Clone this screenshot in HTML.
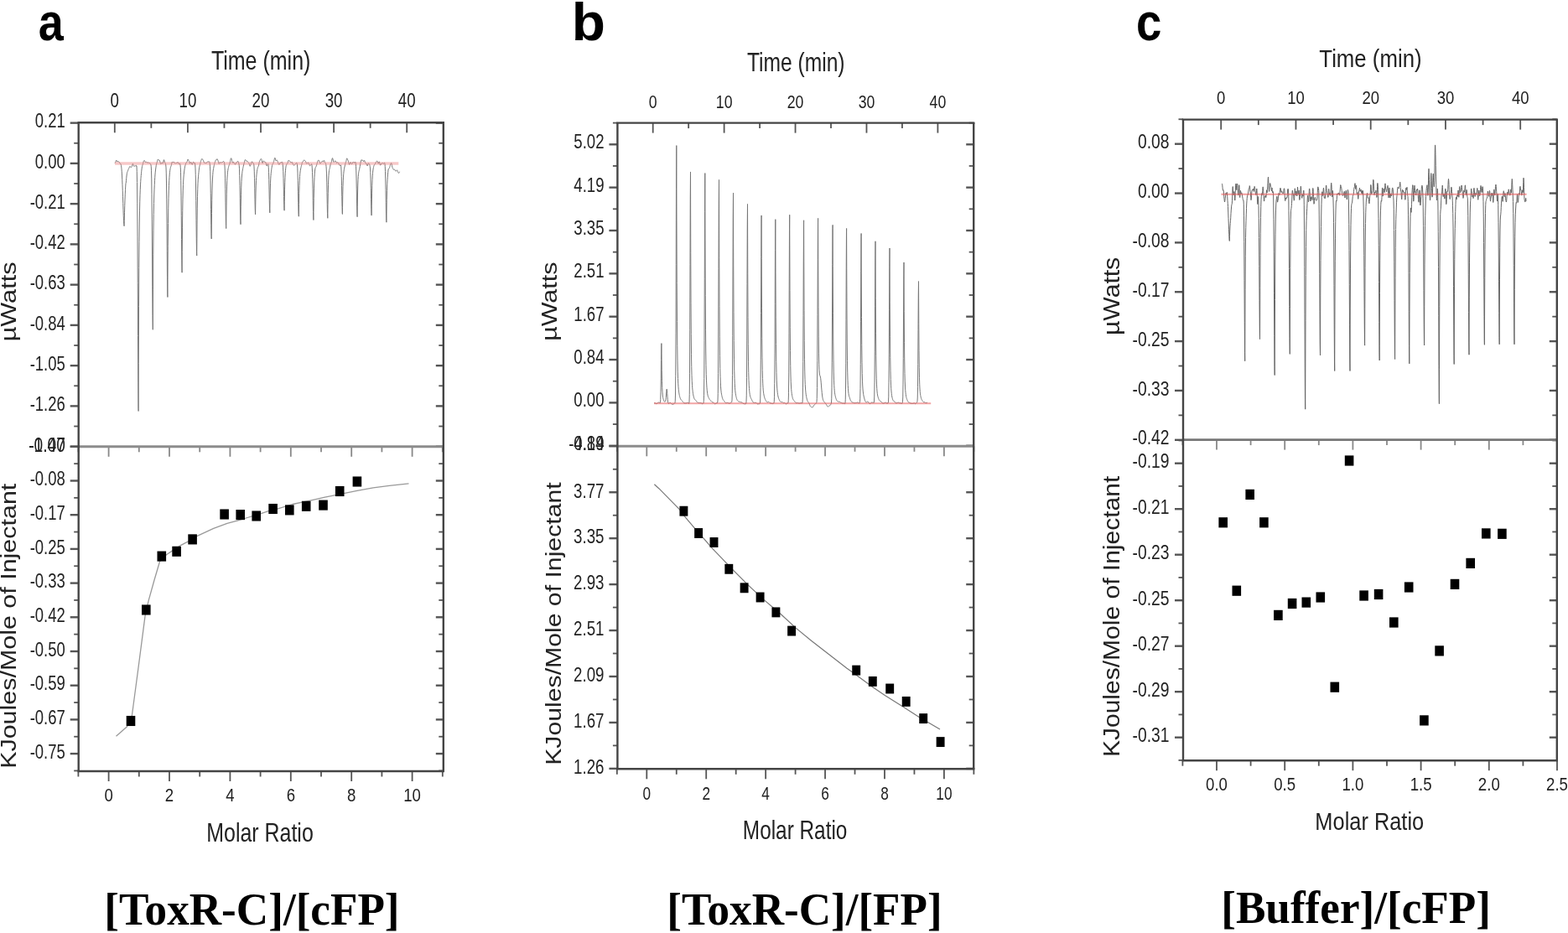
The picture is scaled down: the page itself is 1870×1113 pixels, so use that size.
<!DOCTYPE html>
<html><head><meta charset="utf-8"><title>ITC</title>
<style>html,body{margin:0;padding:0;background:#fff;overflow:hidden}svg{display:block;filter:blur(0.4px)}</style></head>
<body><svg width="1870" height="1113" viewBox="0 0 1870 1113">
<rect width="1870" height="1113" fill="#fff"/>
<line x1="136.80" y1="146.30" x2="136.80" y2="158.30" stroke="#555" stroke-width="1.8"/>
<line x1="223.90" y1="146.30" x2="223.90" y2="158.30" stroke="#555" stroke-width="1.8"/>
<line x1="311.00" y1="146.30" x2="311.00" y2="158.30" stroke="#555" stroke-width="1.8"/>
<line x1="398.10" y1="146.30" x2="398.10" y2="158.30" stroke="#555" stroke-width="1.8"/>
<line x1="485.20" y1="146.30" x2="485.20" y2="158.30" stroke="#555" stroke-width="1.8"/>
<line x1="180.35" y1="146.30" x2="180.35" y2="152.80" stroke="#555" stroke-width="1.8"/>
<line x1="267.45" y1="146.30" x2="267.45" y2="152.80" stroke="#555" stroke-width="1.8"/>
<line x1="354.55" y1="146.30" x2="354.55" y2="152.80" stroke="#555" stroke-width="1.8"/>
<line x1="441.65" y1="146.30" x2="441.65" y2="152.80" stroke="#555" stroke-width="1.8"/>
<text transform="translate(136.80,127.97) scale(0.8100,1)" text-anchor="middle" font-family='"Liberation Sans", Arial, sans-serif' font-size="23.10" fill="#222">0</text>
<text transform="translate(223.90,127.97) scale(0.8100,1)" text-anchor="middle" font-family='"Liberation Sans", Arial, sans-serif' font-size="23.10" fill="#222">10</text>
<text transform="translate(311.00,127.97) scale(0.8100,1)" text-anchor="middle" font-family='"Liberation Sans", Arial, sans-serif' font-size="23.10" fill="#222">20</text>
<text transform="translate(398.10,127.97) scale(0.8100,1)" text-anchor="middle" font-family='"Liberation Sans", Arial, sans-serif' font-size="23.10" fill="#222">30</text>
<text transform="translate(485.20,127.97) scale(0.8100,1)" text-anchor="middle" font-family='"Liberation Sans", Arial, sans-serif' font-size="23.10" fill="#222">40</text>
<line x1="83.70" y1="146.65" x2="93.70" y2="146.65" stroke="#555" stroke-width="2.4"/>
<line x1="519.80" y1="146.65" x2="528.80" y2="146.65" stroke="#555" stroke-width="2.4"/>
<line x1="83.70" y1="194.90" x2="93.70" y2="194.90" stroke="#555" stroke-width="2.4"/>
<line x1="519.80" y1="194.90" x2="528.80" y2="194.90" stroke="#555" stroke-width="2.4"/>
<line x1="83.70" y1="243.15" x2="93.70" y2="243.15" stroke="#555" stroke-width="2.4"/>
<line x1="519.80" y1="243.15" x2="528.80" y2="243.15" stroke="#555" stroke-width="2.4"/>
<line x1="83.70" y1="291.40" x2="93.70" y2="291.40" stroke="#555" stroke-width="2.4"/>
<line x1="519.80" y1="291.40" x2="528.80" y2="291.40" stroke="#555" stroke-width="2.4"/>
<line x1="83.70" y1="339.65" x2="93.70" y2="339.65" stroke="#555" stroke-width="2.4"/>
<line x1="519.80" y1="339.65" x2="528.80" y2="339.65" stroke="#555" stroke-width="2.4"/>
<line x1="83.70" y1="387.90" x2="93.70" y2="387.90" stroke="#555" stroke-width="2.4"/>
<line x1="519.80" y1="387.90" x2="528.80" y2="387.90" stroke="#555" stroke-width="2.4"/>
<line x1="83.70" y1="436.15" x2="93.70" y2="436.15" stroke="#555" stroke-width="2.4"/>
<line x1="519.80" y1="436.15" x2="528.80" y2="436.15" stroke="#555" stroke-width="2.4"/>
<line x1="83.70" y1="484.40" x2="93.70" y2="484.40" stroke="#555" stroke-width="2.4"/>
<line x1="519.80" y1="484.40" x2="528.80" y2="484.40" stroke="#555" stroke-width="2.4"/>
<line x1="83.70" y1="532.65" x2="93.70" y2="532.65" stroke="#555" stroke-width="2.4"/>
<line x1="519.80" y1="532.65" x2="528.80" y2="532.65" stroke="#555" stroke-width="2.4"/>
<line x1="88.20" y1="170.78" x2="93.70" y2="170.78" stroke="#555" stroke-width="1.8"/>
<line x1="523.30" y1="170.78" x2="528.80" y2="170.78" stroke="#555" stroke-width="1.8"/>
<line x1="88.20" y1="219.03" x2="93.70" y2="219.03" stroke="#555" stroke-width="1.8"/>
<line x1="523.30" y1="219.03" x2="528.80" y2="219.03" stroke="#555" stroke-width="1.8"/>
<line x1="88.20" y1="267.27" x2="93.70" y2="267.27" stroke="#555" stroke-width="1.8"/>
<line x1="523.30" y1="267.27" x2="528.80" y2="267.27" stroke="#555" stroke-width="1.8"/>
<line x1="88.20" y1="315.52" x2="93.70" y2="315.52" stroke="#555" stroke-width="1.8"/>
<line x1="523.30" y1="315.52" x2="528.80" y2="315.52" stroke="#555" stroke-width="1.8"/>
<line x1="88.20" y1="363.77" x2="93.70" y2="363.77" stroke="#555" stroke-width="1.8"/>
<line x1="523.30" y1="363.77" x2="528.80" y2="363.77" stroke="#555" stroke-width="1.8"/>
<line x1="88.20" y1="412.02" x2="93.70" y2="412.02" stroke="#555" stroke-width="1.8"/>
<line x1="523.30" y1="412.02" x2="528.80" y2="412.02" stroke="#555" stroke-width="1.8"/>
<line x1="88.20" y1="460.27" x2="93.70" y2="460.27" stroke="#555" stroke-width="1.8"/>
<line x1="523.30" y1="460.27" x2="528.80" y2="460.27" stroke="#555" stroke-width="1.8"/>
<line x1="88.20" y1="508.52" x2="93.70" y2="508.52" stroke="#555" stroke-width="1.8"/>
<line x1="523.30" y1="508.52" x2="528.80" y2="508.52" stroke="#555" stroke-width="1.8"/>
<text transform="translate(77.80,152.32) scale(0.8000,1)" text-anchor="end" font-family='"Liberation Sans", Arial, sans-serif' font-size="23.10" fill="#222">0.21</text>
<text transform="translate(77.80,200.57) scale(0.8000,1)" text-anchor="end" font-family='"Liberation Sans", Arial, sans-serif' font-size="23.10" fill="#222">0.00</text>
<text transform="translate(77.80,248.82) scale(0.8000,1)" text-anchor="end" font-family='"Liberation Sans", Arial, sans-serif' font-size="23.10" fill="#222">-0.21</text>
<text transform="translate(77.80,297.07) scale(0.8000,1)" text-anchor="end" font-family='"Liberation Sans", Arial, sans-serif' font-size="23.10" fill="#222">-0.42</text>
<text transform="translate(77.80,345.32) scale(0.8000,1)" text-anchor="end" font-family='"Liberation Sans", Arial, sans-serif' font-size="23.10" fill="#222">-0.63</text>
<text transform="translate(77.80,393.57) scale(0.8000,1)" text-anchor="end" font-family='"Liberation Sans", Arial, sans-serif' font-size="23.10" fill="#222">-0.84</text>
<text transform="translate(77.80,441.82) scale(0.8000,1)" text-anchor="end" font-family='"Liberation Sans", Arial, sans-serif' font-size="23.10" fill="#222">-1.05</text>
<text transform="translate(77.80,490.07) scale(0.8000,1)" text-anchor="end" font-family='"Liberation Sans", Arial, sans-serif' font-size="23.10" fill="#222">-1.26</text>
<line x1="129.60" y1="532.80" x2="129.60" y2="544.80" stroke="#888" stroke-width="1.8"/>
<line x1="202.00" y1="532.80" x2="202.00" y2="544.80" stroke="#888" stroke-width="1.8"/>
<line x1="274.40" y1="532.80" x2="274.40" y2="544.80" stroke="#888" stroke-width="1.8"/>
<line x1="346.80" y1="532.80" x2="346.80" y2="544.80" stroke="#888" stroke-width="1.8"/>
<line x1="419.20" y1="532.80" x2="419.20" y2="544.80" stroke="#888" stroke-width="1.8"/>
<line x1="491.60" y1="532.80" x2="491.60" y2="544.80" stroke="#888" stroke-width="1.8"/>
<line x1="93.40" y1="532.80" x2="93.40" y2="539.30" stroke="#888" stroke-width="1.8"/>
<line x1="165.80" y1="532.80" x2="165.80" y2="539.30" stroke="#888" stroke-width="1.8"/>
<line x1="238.20" y1="532.80" x2="238.20" y2="539.30" stroke="#888" stroke-width="1.8"/>
<line x1="310.60" y1="532.80" x2="310.60" y2="539.30" stroke="#888" stroke-width="1.8"/>
<line x1="383.00" y1="532.80" x2="383.00" y2="539.30" stroke="#888" stroke-width="1.8"/>
<line x1="455.40" y1="532.80" x2="455.40" y2="539.30" stroke="#888" stroke-width="1.8"/>
<line x1="527.80" y1="532.80" x2="527.80" y2="539.30" stroke="#888" stroke-width="1.8"/>
<line x1="129.60" y1="920.00" x2="129.60" y2="932.00" stroke="#555" stroke-width="1.8"/>
<line x1="202.00" y1="920.00" x2="202.00" y2="932.00" stroke="#555" stroke-width="1.8"/>
<line x1="274.40" y1="920.00" x2="274.40" y2="932.00" stroke="#555" stroke-width="1.8"/>
<line x1="346.80" y1="920.00" x2="346.80" y2="932.00" stroke="#555" stroke-width="1.8"/>
<line x1="419.20" y1="920.00" x2="419.20" y2="932.00" stroke="#555" stroke-width="1.8"/>
<line x1="491.60" y1="920.00" x2="491.60" y2="932.00" stroke="#555" stroke-width="1.8"/>
<line x1="93.40" y1="920.00" x2="93.40" y2="926.50" stroke="#555" stroke-width="1.8"/>
<line x1="165.80" y1="920.00" x2="165.80" y2="926.50" stroke="#555" stroke-width="1.8"/>
<line x1="238.20" y1="920.00" x2="238.20" y2="926.50" stroke="#555" stroke-width="1.8"/>
<line x1="310.60" y1="920.00" x2="310.60" y2="926.50" stroke="#555" stroke-width="1.8"/>
<line x1="383.00" y1="920.00" x2="383.00" y2="926.50" stroke="#555" stroke-width="1.8"/>
<line x1="455.40" y1="920.00" x2="455.40" y2="926.50" stroke="#555" stroke-width="1.8"/>
<line x1="527.80" y1="920.00" x2="527.80" y2="926.50" stroke="#555" stroke-width="1.8"/>
<text transform="translate(129.60,956.27) scale(0.8100,1)" text-anchor="middle" font-family='"Liberation Sans", Arial, sans-serif' font-size="22.96" fill="#222">0</text>
<text transform="translate(202.00,956.27) scale(0.8100,1)" text-anchor="middle" font-family='"Liberation Sans", Arial, sans-serif' font-size="22.96" fill="#222">2</text>
<text transform="translate(274.40,956.27) scale(0.8100,1)" text-anchor="middle" font-family='"Liberation Sans", Arial, sans-serif' font-size="22.96" fill="#222">4</text>
<text transform="translate(346.80,956.27) scale(0.8100,1)" text-anchor="middle" font-family='"Liberation Sans", Arial, sans-serif' font-size="22.96" fill="#222">6</text>
<text transform="translate(419.20,956.27) scale(0.8100,1)" text-anchor="middle" font-family='"Liberation Sans", Arial, sans-serif' font-size="22.96" fill="#222">8</text>
<text transform="translate(491.60,956.27) scale(0.8100,1)" text-anchor="middle" font-family='"Liberation Sans", Arial, sans-serif' font-size="22.96" fill="#222">10</text>
<line x1="83.70" y1="573.50" x2="93.70" y2="573.50" stroke="#555" stroke-width="2.4"/>
<line x1="519.80" y1="573.50" x2="528.80" y2="573.50" stroke="#555" stroke-width="2.4"/>
<line x1="83.70" y1="614.20" x2="93.70" y2="614.20" stroke="#555" stroke-width="2.4"/>
<line x1="519.80" y1="614.20" x2="528.80" y2="614.20" stroke="#555" stroke-width="2.4"/>
<line x1="83.70" y1="654.90" x2="93.70" y2="654.90" stroke="#555" stroke-width="2.4"/>
<line x1="519.80" y1="654.90" x2="528.80" y2="654.90" stroke="#555" stroke-width="2.4"/>
<line x1="83.70" y1="695.60" x2="93.70" y2="695.60" stroke="#555" stroke-width="2.4"/>
<line x1="519.80" y1="695.60" x2="528.80" y2="695.60" stroke="#555" stroke-width="2.4"/>
<line x1="83.70" y1="736.30" x2="93.70" y2="736.30" stroke="#555" stroke-width="2.4"/>
<line x1="519.80" y1="736.30" x2="528.80" y2="736.30" stroke="#555" stroke-width="2.4"/>
<line x1="83.70" y1="777.00" x2="93.70" y2="777.00" stroke="#555" stroke-width="2.4"/>
<line x1="519.80" y1="777.00" x2="528.80" y2="777.00" stroke="#555" stroke-width="2.4"/>
<line x1="83.70" y1="817.70" x2="93.70" y2="817.70" stroke="#555" stroke-width="2.4"/>
<line x1="519.80" y1="817.70" x2="528.80" y2="817.70" stroke="#555" stroke-width="2.4"/>
<line x1="83.70" y1="858.40" x2="93.70" y2="858.40" stroke="#555" stroke-width="2.4"/>
<line x1="519.80" y1="858.40" x2="528.80" y2="858.40" stroke="#555" stroke-width="2.4"/>
<line x1="83.70" y1="899.10" x2="93.70" y2="899.10" stroke="#555" stroke-width="2.4"/>
<line x1="519.80" y1="899.10" x2="528.80" y2="899.10" stroke="#555" stroke-width="2.4"/>
<line x1="88.20" y1="553.15" x2="93.70" y2="553.15" stroke="#555" stroke-width="1.8"/>
<line x1="523.30" y1="553.15" x2="528.80" y2="553.15" stroke="#555" stroke-width="1.8"/>
<line x1="88.20" y1="593.85" x2="93.70" y2="593.85" stroke="#555" stroke-width="1.8"/>
<line x1="523.30" y1="593.85" x2="528.80" y2="593.85" stroke="#555" stroke-width="1.8"/>
<line x1="88.20" y1="634.55" x2="93.70" y2="634.55" stroke="#555" stroke-width="1.8"/>
<line x1="523.30" y1="634.55" x2="528.80" y2="634.55" stroke="#555" stroke-width="1.8"/>
<line x1="88.20" y1="675.25" x2="93.70" y2="675.25" stroke="#555" stroke-width="1.8"/>
<line x1="523.30" y1="675.25" x2="528.80" y2="675.25" stroke="#555" stroke-width="1.8"/>
<line x1="88.20" y1="715.95" x2="93.70" y2="715.95" stroke="#555" stroke-width="1.8"/>
<line x1="523.30" y1="715.95" x2="528.80" y2="715.95" stroke="#555" stroke-width="1.8"/>
<line x1="88.20" y1="756.65" x2="93.70" y2="756.65" stroke="#555" stroke-width="1.8"/>
<line x1="523.30" y1="756.65" x2="528.80" y2="756.65" stroke="#555" stroke-width="1.8"/>
<line x1="88.20" y1="797.35" x2="93.70" y2="797.35" stroke="#555" stroke-width="1.8"/>
<line x1="523.30" y1="797.35" x2="528.80" y2="797.35" stroke="#555" stroke-width="1.8"/>
<line x1="88.20" y1="838.05" x2="93.70" y2="838.05" stroke="#555" stroke-width="1.8"/>
<line x1="523.30" y1="838.05" x2="528.80" y2="838.05" stroke="#555" stroke-width="1.8"/>
<line x1="88.20" y1="878.75" x2="93.70" y2="878.75" stroke="#555" stroke-width="1.8"/>
<line x1="523.30" y1="878.75" x2="528.80" y2="878.75" stroke="#555" stroke-width="1.8"/>
<line x1="88.20" y1="919.45" x2="93.70" y2="919.45" stroke="#555" stroke-width="1.8"/>
<line x1="523.30" y1="919.45" x2="528.80" y2="919.45" stroke="#555" stroke-width="1.8"/>
<text transform="translate(77.80,579.17) scale(0.8000,1)" text-anchor="end" font-family='"Liberation Sans", Arial, sans-serif' font-size="23.10" fill="#222">-0.08</text>
<text transform="translate(77.80,619.87) scale(0.8000,1)" text-anchor="end" font-family='"Liberation Sans", Arial, sans-serif' font-size="23.10" fill="#222">-0.17</text>
<text transform="translate(77.80,660.57) scale(0.8000,1)" text-anchor="end" font-family='"Liberation Sans", Arial, sans-serif' font-size="23.10" fill="#222">-0.25</text>
<text transform="translate(77.80,701.27) scale(0.8000,1)" text-anchor="end" font-family='"Liberation Sans", Arial, sans-serif' font-size="23.10" fill="#222">-0.33</text>
<text transform="translate(77.80,741.97) scale(0.8000,1)" text-anchor="end" font-family='"Liberation Sans", Arial, sans-serif' font-size="23.10" fill="#222">-0.42</text>
<text transform="translate(77.80,782.67) scale(0.8000,1)" text-anchor="end" font-family='"Liberation Sans", Arial, sans-serif' font-size="23.10" fill="#222">-0.50</text>
<text transform="translate(77.80,823.37) scale(0.8000,1)" text-anchor="end" font-family='"Liberation Sans", Arial, sans-serif' font-size="23.10" fill="#222">-0.59</text>
<text transform="translate(77.80,864.07) scale(0.8000,1)" text-anchor="end" font-family='"Liberation Sans", Arial, sans-serif' font-size="23.10" fill="#222">-0.67</text>
<text transform="translate(77.80,904.77) scale(0.8000,1)" text-anchor="end" font-family='"Liberation Sans", Arial, sans-serif' font-size="23.10" fill="#222">-0.75</text>
<line x1="83.70" y1="532.80" x2="93.70" y2="532.80" stroke="#555" stroke-width="2.4"/>
<text transform="translate(77.80,538.96) scale(0.8000,1)" text-anchor="end" font-family='"Liberation Sans", Arial, sans-serif' font-size="23.94" fill="#222">-1.47</text>
<text transform="translate(77.80,538.96) scale(0.8000,1)" text-anchor="end" font-family='"Liberation Sans", Arial, sans-serif' font-size="23.94" fill="#222">-0.00</text>
<text transform="translate(251.90,82.90) scale(0.8177,1)" font-family='"Liberation Sans", Arial, sans-serif' font-weight="normal" font-size="30.58" fill="#222">Time (min)</text>
<text transform="translate(246.25,1003.80) scale(0.8007,1)" font-family='"Liberation Sans", Arial, sans-serif' font-weight="normal" font-size="31.16" fill="#222">Molar Ratio</text>
<text transform="translate(19.40,407.35) scale(0.8411,1) rotate(-90)" font-family='"Liberation Sans", Arial, sans-serif' font-weight="normal" font-size="30.67" fill="#222">µWatts</text>
<text transform="translate(19.40,916.84) scale(0.8611,1) rotate(-90)" font-family='"Liberation Sans", Arial, sans-serif' font-weight="normal" font-size="30.46" fill="#222">KJoules/Mole of Injectant</text>
<line x1="93.70" y1="532.80" x2="528.80" y2="532.80" stroke="#8c8c8c" stroke-width="3.0"/>
<line x1="93.70" y1="146.30" x2="93.70" y2="920.00" stroke="#444444" stroke-width="2.4"/>
<line x1="528.80" y1="146.30" x2="528.80" y2="920.00" stroke="#444444" stroke-width="2.4"/>
<line x1="92.50" y1="146.30" x2="530.00" y2="146.30" stroke="#444444" stroke-width="2.4"/>
<line x1="92.50" y1="920.00" x2="530.00" y2="920.00" stroke="#444444" stroke-width="2.4"/>
<path d="M137.00,194.66 L137.25,194.36 L137.50,193.95 L137.75,193.38 L138.00,192.64 L138.25,191.87 L138.50,191.28 L138.75,191.09 L139.00,191.33 L139.25,191.89 L139.50,192.51 L139.75,192.94 L140.00,193.00 L140.25,192.82 L140.50,192.62 L140.75,192.58 L141.00,192.67 L141.25,192.74 L141.50,192.76 L141.75,192.85 L142.00,193.14 L142.25,193.61 L142.50,194.13 L142.75,194.57 L143.00,194.87 L143.25,195.05 L143.50,195.16 L143.75,195.30 L144.00,195.62 L144.25,196.27 L144.50,197.41 L144.75,199.17 L145.00,201.61 L145.25,204.86 L145.50,209.05 L145.75,214.26 L146.00,220.40 L146.25,227.32 L146.50,234.79 L146.75,242.58 L147.00,250.32 L147.25,257.43 L147.50,263.33 L147.75,267.47 L148.00,269.52 L148.10,269.70 L148.25,263.31 L148.50,253.76 L148.75,245.40 L149.00,238.11 L149.25,231.80 L149.50,226.47 L149.75,222.07 L150.00,218.42 L150.25,218.25 L150.50,215.29 L150.75,212.50 L151.00,209.97 L151.25,207.88 L151.50,206.37 L151.75,205.41 L152.00,204.84 L152.25,204.34 L152.50,203.72 L152.75,202.98 L153.00,202.27 L153.25,201.70 L153.50,201.20 L153.75,200.69 L154.00,200.12 L154.25,199.53 L154.50,198.99 L154.75,198.58 L155.00,198.43 L155.25,198.59 L155.50,198.99 L155.75,199.39 L156.00,199.63 L156.25,199.65 L156.50,199.54 L156.75,199.33 L157.00,199.00 L157.25,198.49 L157.50,197.73 L157.75,196.82 L158.00,195.97 L158.25,195.41 L158.50,195.37 L158.75,195.89 L159.00,196.77 L159.25,197.63 L159.50,198.15 L159.75,198.27 L160.00,198.20 L160.25,198.14 L160.50,198.16 L160.75,198.23 L161.00,198.23 L161.25,198.11 L161.50,197.86 L161.75,197.53 L162.00,197.24 L162.25,197.15 L162.50,197.44 L162.75,198.50 L163.00,198.20 L163.25,204.44 L163.50,217.57 L163.75,242.14 L164.00,282.13 L164.25,337.39 L164.50,400.37 L164.75,456.11 L165.00,487.52 L165.10,490.49 L165.25,433.65 L165.50,365.28 L165.75,319.58 L166.00,288.54 L166.25,267.04 L166.50,251.83 L166.75,240.85 L167.00,232.67 L167.25,226.25 L167.50,220.91 L167.75,216.37 L168.00,212.56 L168.25,209.39 L168.50,206.69 L168.75,204.24 L169.00,202.01 L169.25,200.09 L169.50,198.61 L169.75,197.60 L170.00,196.88 L170.25,196.17 L170.50,195.30 L170.75,194.28 L171.00,193.27 L171.25,192.47 L171.50,191.95 L171.75,191.63 L172.00,191.47 L172.25,191.48 L172.50,191.74 L172.75,192.20 L173.00,192.74 L173.25,193.21 L173.50,193.56 L173.75,193.77 L174.00,193.76 L174.25,193.56 L174.50,193.31 L174.75,193.24 L175.00,193.45 L175.25,193.84 L175.50,194.20 L175.75,194.37 L176.00,194.36 L176.25,194.18 L176.50,193.94 L176.75,193.76 L177.00,193.76 L177.25,194.00 L177.50,194.36 L177.75,194.64 L178.00,194.72 L178.25,194.68 L178.50,194.62 L178.75,194.66 L179.00,194.82 L179.25,195.09 L179.50,195.49 L179.75,196.05 L180.00,196.92 L180.25,198.75 L180.50,203.21 L180.75,213.10 L181.00,231.72 L181.25,261.16 L181.50,300.00 L181.75,341.89 L182.00,376.37 L182.25,392.80 L182.30,393.29 L182.50,345.12 L182.75,303.20 L183.00,274.90 L183.25,255.60 L183.50,242.32 L183.75,233.01 L184.00,226.12 L184.25,220.56 L184.50,215.72 L184.75,211.46 L185.00,207.94 L185.25,205.18 L185.50,202.97 L185.75,201.02 L186.00,199.15 L186.25,197.45 L186.50,196.11 L186.75,195.16 L187.00,194.38 L187.25,193.53 L187.50,192.53 L187.75,191.49 L188.00,190.64 L188.25,190.13 L188.50,190.03 L188.75,190.28 L189.00,190.70 L189.25,191.04 L189.50,191.16 L189.75,191.10 L190.00,191.07 L190.25,191.29 L190.50,191.82 L190.75,192.63 L191.00,193.58 L191.25,194.49 L191.50,195.16 L191.75,195.46 L192.00,195.38 L192.25,195.04 L192.50,194.60 L192.75,194.24 L193.00,194.12 L193.25,194.28 L193.50,194.59 L193.75,194.91 L194.00,195.02 L194.25,194.80 L194.50,194.15 L194.75,193.13 L195.00,191.94 L195.25,190.98 L195.50,190.62 L195.75,191.02 L196.00,191.95 L196.25,192.95 L196.50,193.68 L196.75,194.15 L197.00,194.53 L197.25,195.00 L197.50,195.68 L197.75,196.97 L198.00,199.86 L198.25,206.11 L198.50,218.06 L198.75,237.89 L199.00,266.08 L199.25,299.50 L199.50,330.86 L199.75,350.93 L199.90,354.49 L200.00,333.25 L200.25,293.22 L200.50,266.62 L200.75,248.81 L201.00,236.64 L201.25,227.93 L201.50,221.25 L201.75,215.85 L202.00,211.44 L202.25,207.96 L202.50,205.31 L202.75,203.28 L203.00,201.67 L203.25,200.40 L203.50,199.44 L203.75,198.73 L204.00,198.09 L204.25,197.33 L204.50,196.34 L204.75,195.17 L205.00,194.04 L205.25,193.25 L205.50,193.01 L205.75,193.22 L206.00,193.54 L206.25,193.65 L206.50,193.47 L206.75,193.16 L207.00,192.93 L207.25,192.98 L207.50,193.32 L207.75,193.84 L208.00,194.27 L208.25,194.46 L208.50,194.51 L208.75,194.60 L209.00,194.83 L209.25,195.08 L209.50,195.11 L209.75,194.87 L210.00,194.57 L210.25,194.41 L210.50,194.43 L210.75,194.51 L211.00,194.47 L211.25,194.27 L211.50,193.94 L211.75,193.63 L212.00,193.50 L212.25,193.64 L212.50,194.05 L212.75,194.64 L213.00,195.20 L213.25,195.55 L213.50,195.59 L213.75,195.38 L214.00,195.07 L214.25,194.91 L214.50,195.08 L214.75,195.74 L215.00,197.09 L215.25,199.78 L215.50,205.27 L215.75,215.72 L216.00,233.14 L216.25,257.54 L216.50,285.45 L216.75,310.09 L217.00,323.90 L217.10,325.19 L217.25,300.60 L217.50,271.16 L217.75,251.42 L218.00,237.74 L218.25,227.87 L218.50,220.50 L218.75,215.01 L219.00,211.06 L219.25,208.25 L219.50,206.04 L219.75,203.98 L220.00,201.97 L220.25,200.20 L220.50,198.83 L220.75,197.82 L221.00,197.00 L221.25,196.21 L221.50,195.43 L221.75,194.71 L222.00,194.16 L222.25,193.85 L222.50,193.75 L222.75,193.65 L223.00,193.28 L223.25,192.53 L223.50,191.52 L223.75,190.56 L224.00,190.01 L224.25,190.05 L224.50,190.58 L224.75,191.28 L225.00,191.84 L225.25,192.15 L225.50,192.46 L225.75,193.04 L226.00,193.93 L226.25,194.78 L226.50,195.17 L226.75,194.97 L227.00,194.39 L227.25,193.81 L227.50,193.48 L227.75,193.45 L228.00,193.71 L228.25,194.23 L228.50,194.98 L228.75,195.72 L229.00,196.20 L229.25,196.24 L229.50,195.87 L229.75,195.26 L230.00,194.55 L230.25,193.87 L230.50,193.39 L230.75,193.23 L231.00,193.46 L231.25,193.93 L231.50,194.34 L231.75,194.49 L232.00,194.41 L232.25,194.41 L232.50,195.02 L232.75,196.86 L233.00,200.87 L233.25,208.41 L233.50,221.00 L233.75,239.43 L234.00,262.21 L234.25,284.79 L234.50,300.75 L234.70,305.09 L234.75,297.50 L235.00,267.83 L235.25,248.14 L235.50,234.74 L235.75,225.37 L236.00,218.77 L236.25,214.16 L236.50,210.85 L236.75,208.16 L237.00,205.65 L237.25,203.25 L237.50,201.10 L237.75,199.40 L238.00,198.21 L238.25,197.34 L238.50,196.57 L238.75,195.68 L239.00,194.63 L239.25,193.52 L239.50,192.50 L239.75,191.64 L240.00,190.93 L240.25,190.33 L240.50,189.81 L240.75,189.47 L241.00,189.41 L241.25,189.62 L241.50,189.99 L241.75,190.37 L242.00,190.70 L242.25,191.04 L242.50,191.55 L242.75,192.25 L243.00,193.04 L243.25,193.73 L243.50,194.16 L243.75,194.33 L244.00,194.35 L244.25,194.36 L244.50,194.47 L244.75,194.64 L245.00,194.75 L245.25,194.71 L245.50,194.59 L245.75,194.48 L246.00,194.49 L246.25,194.50 L246.50,194.35 L246.75,194.01 L247.00,193.56 L247.25,193.15 L247.50,192.88 L247.75,192.79 L248.00,192.86 L248.25,192.97 L248.50,192.96 L248.75,192.79 L249.00,192.62 L249.25,192.60 L249.50,192.84 L249.75,193.33 L250.00,194.15 L250.25,195.71 L250.50,198.85 L250.75,204.83 L251.00,215.12 L251.25,230.43 L251.50,249.45 L251.75,268.25 L252.00,281.44 L252.20,284.99 L252.25,278.79 L252.50,254.50 L252.75,238.28 L253.00,227.12 L253.25,219.07 L253.50,213.01 L253.75,208.48 L254.00,205.28 L254.25,203.16 L254.50,201.64 L254.75,200.30 L255.00,198.94 L255.25,197.66 L255.50,196.50 L255.75,195.50 L256.00,194.62 L256.25,193.86 L256.50,193.17 L256.75,192.47 L257.00,191.73 L257.25,191.12 L257.50,190.82 L257.75,190.87 L258.00,190.94 L258.25,190.76 L258.50,190.27 L258.75,189.75 L259.00,189.55 L259.25,189.80 L259.50,190.36 L259.75,191.00 L260.00,191.64 L260.25,192.40 L260.50,193.36 L260.75,194.37 L261.00,195.12 L261.25,195.35 L261.50,195.02 L261.75,194.41 L262.00,193.85 L262.25,193.51 L262.50,193.46 L262.75,193.65 L263.00,193.96 L263.25,194.27 L263.50,194.41 L263.75,194.29 L264.00,194.00 L264.25,193.68 L264.50,193.51 L264.75,193.52 L265.00,193.60 L265.25,193.62 L265.50,193.44 L265.75,193.14 L266.00,192.82 L266.25,192.56 L266.50,192.44 L266.75,192.52 L267.00,192.83 L267.25,193.37 L267.50,194.15 L267.75,195.44 L268.00,198.01 L268.25,203.13 L268.50,212.13 L268.75,225.49 L269.00,241.94 L269.25,258.12 L269.50,269.51 L269.70,272.59 L269.75,267.18 L270.00,245.94 L270.25,231.73 L270.50,222.09 L270.75,215.51 L271.00,210.99 L271.25,207.80 L271.50,205.39 L271.75,203.44 L272.00,201.86 L272.25,200.57 L272.50,199.49 L272.75,198.49 L273.00,197.61 L273.25,196.92 L273.50,196.40 L273.75,195.85 L274.00,195.04 L274.25,193.92 L274.50,192.63 L274.75,191.35 L275.00,190.20 L275.25,189.29 L275.50,188.76 L275.75,188.73 L276.00,189.23 L276.25,190.17 L276.50,191.35 L276.75,192.56 L277.00,193.56 L277.25,194.14 L277.50,194.17 L277.75,193.75 L278.00,193.24 L278.25,193.00 L278.50,193.25 L278.75,193.84 L279.00,194.47 L279.25,194.94 L279.50,195.21 L279.75,195.42 L280.00,195.71 L280.25,196.04 L280.50,196.25 L280.75,196.17 L281.00,195.74 L281.25,195.06 L281.50,194.34 L281.75,193.83 L282.00,193.63 L282.25,193.63 L282.50,193.59 L282.75,193.37 L283.00,192.98 L283.25,192.55 L283.50,192.27 L283.75,192.27 L284.00,192.66 L284.25,193.35 L284.50,194.13 L284.75,194.86 L285.00,195.75 L285.25,197.59 L285.50,201.70 L285.75,209.47 L286.00,221.51 L286.25,236.69 L286.50,251.97 L286.75,263.42 L287.00,267.69 L287.25,246.87 L287.50,232.80 L287.75,223.15 L288.00,216.56 L288.25,212.09 L288.50,208.96 L288.75,206.61 L289.00,204.67 L289.25,203.04 L289.50,201.71 L289.75,200.57 L290.00,199.43 L290.25,198.21 L290.50,197.02 L290.75,196.00 L291.00,195.12 L291.25,194.24 L291.50,193.24 L291.75,192.18 L292.00,191.26 L292.25,190.68 L292.50,190.51 L292.75,190.70 L293.00,191.12 L293.25,191.57 L293.50,191.93 L293.75,192.16 L294.00,192.27 L294.25,192.28 L294.50,192.19 L294.75,192.10 L295.00,192.18 L295.25,192.49 L295.50,192.94 L295.75,193.36 L296.00,193.66 L296.25,193.88 L296.50,194.13 L296.75,194.47 L297.00,194.95 L297.25,195.64 L297.50,196.55 L297.75,197.50 L298.00,198.15 L298.25,198.28 L298.50,197.89 L298.75,197.18 L299.00,196.37 L299.25,195.57 L299.50,194.84 L299.75,194.18 L300.00,193.55 L300.25,193.03 L300.50,192.75 L300.75,192.84 L301.00,193.28 L301.25,193.87 L301.50,194.42 L301.75,194.80 L302.00,194.99 L302.25,195.04 L302.50,195.25 L302.75,196.25 L303.00,198.91 L303.25,204.19 L303.50,212.70 L303.75,224.27 L304.00,237.32 L304.25,248.85 L304.50,255.37 L304.60,255.99 L304.75,244.13 L305.00,230.08 L305.25,221.10 L305.50,215.34 L305.75,211.44 L306.00,208.54 L306.25,206.22 L306.50,204.29 L306.75,202.68 L307.00,201.37 L307.25,200.35 L307.50,199.61 L307.75,199.06 L308.00,198.61 L308.25,198.05 L308.50,197.19 L308.75,195.94 L309.00,194.52 L309.25,193.28 L309.50,192.45 L309.75,191.94 L310.00,191.49 L310.25,190.95 L310.50,190.35 L310.75,189.83 L311.00,189.55 L311.25,189.48 L311.50,189.57 L311.75,189.85 L312.00,190.43 L312.25,191.42 L312.50,192.70 L312.75,193.91 L313.00,194.61 L313.25,194.53 L313.50,193.80 L313.75,192.87 L314.00,192.19 L314.25,191.92 L314.50,192.00 L314.75,192.20 L315.00,192.46 L315.25,192.78 L315.50,193.16 L315.75,193.52 L316.00,193.75 L316.25,193.78 L316.50,193.66 L316.75,193.58 L317.00,193.81 L317.25,194.58 L317.50,195.79 L317.75,197.02 L318.00,197.81 L318.25,197.91 L318.50,197.49 L318.75,196.85 L319.00,196.23 L319.25,195.72 L319.50,195.42 L319.75,195.60 L320.00,196.73 L320.25,199.64 L320.50,205.31 L320.75,214.34 L321.00,226.15 L321.25,238.69 L321.50,248.90 L321.75,253.74 L321.80,253.89 L322.00,239.53 L322.25,227.03 L322.50,218.69 L322.75,213.12 L323.00,209.31 L323.25,206.50 L323.50,204.23 L323.75,202.28 L324.00,200.57 L324.25,199.05 L324.50,197.71 L324.75,196.62 L325.00,195.92 L325.25,195.59 L325.50,195.42 L325.75,195.11 L326.00,194.48 L326.25,193.58 L326.50,192.61 L326.75,191.65 L327.00,190.69 L327.25,189.74 L327.50,188.88 L327.75,188.33 L328.00,188.30 L328.25,188.82 L328.50,189.79 L328.75,190.86 L329.00,191.64 L329.25,191.90 L329.50,191.64 L329.75,191.18 L330.00,190.90 L330.25,190.95 L330.50,191.28 L330.75,191.74 L331.00,192.27 L331.25,192.89 L331.50,193.64 L331.75,194.40 L332.00,195.10 L332.25,195.66 L332.50,196.07 L332.75,196.33 L333.00,196.36 L333.25,196.10 L333.50,195.56 L333.75,194.92 L334.00,194.38 L334.25,194.10 L334.50,194.10 L334.75,194.26 L335.00,194.37 L335.25,194.24 L335.50,193.84 L335.75,193.34 L336.00,193.01 L336.25,193.02 L336.50,193.32 L336.75,193.83 L337.00,194.66 L337.25,196.17 L337.50,199.11 L337.75,204.32 L338.00,212.34 L338.25,222.88 L338.50,234.52 L338.75,244.77 L339.00,250.63 L339.10,251.19 L339.25,240.21 L339.50,226.84 L339.75,217.72 L340.00,211.33 L340.25,206.69 L340.50,203.22 L340.75,200.62 L341.00,198.77 L341.25,197.60 L341.50,196.86 L341.75,196.32 L342.00,195.83 L342.25,195.43 L342.50,195.15 L342.75,194.89 L343.00,194.46 L343.25,193.77 L343.50,192.90 L343.75,192.05 L344.00,191.42 L344.25,191.16 L344.50,191.30 L344.75,191.67 L345.00,192.01 L345.25,192.16 L345.50,192.19 L345.75,192.32 L346.00,192.68 L346.25,193.20 L346.50,193.66 L346.75,193.89 L347.00,193.91 L347.25,193.84 L347.50,193.72 L347.75,193.52 L348.00,193.30 L348.25,193.27 L348.50,193.63 L348.75,194.34 L349.00,195.15 L349.25,195.78 L349.50,196.14 L349.75,196.37 L350.00,196.67 L350.25,197.03 L350.50,197.32 L350.75,197.36 L351.00,197.13 L351.25,196.73 L351.50,196.29 L351.75,195.91 L352.00,195.66 L352.25,195.52 L352.50,195.40 L352.75,195.22 L353.00,194.99 L353.25,194.71 L353.50,194.47 L353.75,194.36 L354.00,194.53 L354.25,195.22 L354.50,196.84 L354.75,200.14 L355.00,206.14 L355.25,215.58 L355.50,228.14 L355.75,241.75 L356.00,252.85 L356.25,258.04 L356.30,258.19 L356.50,243.44 L356.75,230.48 L357.00,221.46 L357.25,215.09 L357.50,210.59 L357.75,207.36 L358.00,205.03 L358.25,203.31 L358.50,201.95 L358.75,200.75 L359.00,199.61 L359.25,198.54 L359.50,197.57 L359.75,196.64 L360.00,195.61 L360.25,194.53 L360.50,193.57 L360.75,192.97 L361.00,192.73 L361.25,192.65 L361.50,192.51 L361.75,192.16 L362.00,191.69 L362.25,191.24 L362.50,190.96 L362.75,190.92 L363.00,191.04 L363.25,191.22 L363.50,191.41 L363.75,191.64 L364.00,191.92 L364.25,192.24 L364.50,192.61 L364.75,193.12 L365.00,193.79 L365.25,194.50 L365.50,195.05 L365.75,195.32 L366.00,195.32 L366.25,195.17 L366.50,194.94 L366.75,194.67 L367.00,194.42 L367.25,194.26 L367.50,194.20 L367.75,194.27 L368.00,194.47 L368.25,194.83 L368.50,195.39 L368.75,196.06 L369.00,196.76 L369.25,197.33 L369.50,197.67 L369.75,197.73 L370.00,197.52 L370.25,197.21 L370.50,196.95 L370.75,196.74 L371.00,196.42 L371.25,195.95 L371.50,195.60 L371.75,195.85 L372.00,197.20 L372.25,200.16 L372.50,205.42 L372.75,213.83 L373.00,225.59 L373.25,239.48 L373.50,252.55 L373.75,260.98 L373.90,262.49 L374.00,253.42 L374.25,236.33 L374.50,224.90 L374.75,217.03 L375.00,211.39 L375.25,207.20 L375.50,204.09 L375.75,201.90 L376.00,200.55 L376.25,199.86 L376.50,199.52 L376.75,199.17 L377.00,198.63 L377.25,197.91 L377.50,197.10 L377.75,196.28 L378.00,195.44 L378.25,194.55 L378.50,193.59 L378.75,192.69 L379.00,191.96 L379.25,191.49 L379.50,191.24 L379.75,191.13 L380.00,191.10 L380.25,191.17 L380.50,191.41 L380.75,191.92 L381.00,192.70 L381.25,193.65 L381.50,194.53 L381.75,195.13 L382.00,195.29 L382.25,195.06 L382.50,194.65 L382.75,194.31 L383.00,194.06 L383.25,193.79 L383.50,193.37 L383.75,192.82 L384.00,192.32 L384.25,192.08 L384.50,192.15 L384.75,192.43 L385.00,192.76 L385.25,192.92 L385.50,192.80 L385.75,192.39 L386.00,191.80 L386.25,191.36 L386.50,191.31 L386.75,191.79 L387.00,192.59 L387.25,193.39 L387.50,193.91 L387.75,194.16 L388.00,194.32 L388.25,194.66 L388.50,195.36 L388.75,196.58 L389.00,198.60 L389.25,202.05 L389.50,207.90 L389.75,217.13 L390.00,229.61 L390.25,243.34 L390.50,254.71 L390.75,260.13 L390.80,260.29 L391.00,244.33 L391.25,230.30 L391.50,220.70 L391.75,214.05 L392.00,209.35 L392.25,205.99 L392.50,203.73 L392.75,202.36 L393.00,201.52 L393.25,200.69 L393.50,199.55 L393.75,198.17 L394.00,196.84 L394.25,195.81 L394.50,195.08 L394.75,194.53 L395.00,194.01 L395.25,193.34 L395.50,192.39 L395.75,191.14 L396.00,189.85 L396.25,188.89 L396.50,188.56 L396.75,188.92 L397.00,189.85 L397.25,191.06 L397.50,192.21 L397.75,193.02 L398.00,193.40 L398.25,193.43 L398.50,193.27 L398.75,192.96 L399.00,192.59 L399.25,192.25 L399.50,192.04 L399.75,191.95 L400.00,191.94 L400.25,192.04 L400.50,192.37 L400.75,192.95 L401.00,193.66 L401.25,194.24 L401.50,194.54 L401.75,194.49 L402.00,194.20 L402.25,193.87 L402.50,193.70 L402.75,193.74 L403.00,193.88 L403.25,194.08 L403.50,194.34 L403.75,194.73 L404.00,195.32 L404.25,196.02 L404.50,196.69 L404.75,197.17 L405.00,197.40 L405.25,197.46 L405.50,197.44 L405.75,197.32 L406.00,197.03 L406.25,196.72 L406.50,196.98 L406.75,198.72 L407.00,203.01 L407.25,210.57 L407.50,221.41 L407.75,234.26 L408.00,246.34 L408.25,254.11 L408.40,255.49 L408.50,247.35 L408.75,232.26 L409.00,222.43 L409.25,215.84 L409.50,211.15 L409.75,207.65 L410.00,204.95 L410.25,202.86 L410.50,201.27 L410.75,200.03 L411.00,198.99 L411.25,197.94 L411.50,196.84 L411.75,195.73 L412.00,194.73 L412.25,193.94 L412.50,193.24 L412.75,192.46 L413.00,191.44 L413.25,190.28 L413.50,189.29 L413.75,188.83 L414.00,189.02 L414.25,189.61 L414.50,190.26 L414.75,190.76 L415.00,191.22 L415.25,191.84 L415.50,192.70 L415.75,193.73 L416.00,194.78 L416.25,195.68 L416.50,196.22 L416.75,196.27 L417.00,195.86 L417.25,195.17 L417.50,194.44 L417.75,193.86 L418.00,193.54 L418.25,193.60 L418.50,194.04 L418.75,194.69 L419.00,195.30 L419.25,195.62 L419.50,195.63 L419.75,195.49 L420.00,195.33 L420.25,195.10 L420.50,194.65 L420.75,194.00 L421.00,193.36 L421.25,193.03 L421.50,193.09 L421.75,193.37 L422.00,193.67 L422.25,193.88 L422.50,194.02 L422.75,194.06 L423.00,193.91 L423.25,193.56 L423.50,193.21 L423.75,193.15 L424.00,193.66 L424.25,195.14 L424.50,198.25 L424.75,203.93 L425.00,212.96 L425.25,225.23 L425.50,239.05 L425.75,251.19 L426.00,258.04 L426.10,258.69 L426.25,246.13 L426.50,231.01 L426.75,221.07 L427.00,214.62 L427.25,210.43 L427.50,207.65 L427.75,205.70 L428.00,204.29 L428.25,203.23 L428.50,202.29 L428.75,201.26 L429.00,199.99 L429.25,198.53 L429.50,197.01 L429.75,195.56 L430.00,194.22 L430.25,193.00 L430.50,191.93 L430.75,191.09 L431.00,190.65 L431.25,190.69 L431.50,191.07 L431.75,191.45 L432.00,191.57 L432.25,191.41 L432.50,191.22 L432.75,191.26 L433.00,191.64 L433.25,192.19 L433.50,192.60 L433.75,192.60 L434.00,192.16 L434.25,191.57 L434.50,191.28 L434.75,191.52 L435.00,192.22 L435.25,193.07 L435.50,193.82 L435.75,194.38 L436.00,194.73 L436.25,194.88 L436.50,194.89 L436.75,194.97 L437.00,195.31 L437.25,195.98 L437.50,196.81 L437.75,197.53 L438.00,197.88 L438.25,197.72 L438.50,197.09 L438.75,196.19 L439.00,195.38 L439.25,194.91 L439.50,194.81 L439.75,194.91 L440.00,195.10 L440.25,195.36 L440.50,195.78 L440.75,196.38 L441.00,197.22 L441.25,198.54 L441.50,200.92 L441.75,205.39 L442.00,213.09 L442.25,224.37 L442.50,237.73 L442.75,249.72 L443.00,256.46 L443.10,257.09 L443.25,245.17 L443.50,230.88 L443.75,221.28 L444.00,214.64 L444.25,209.92 L444.50,206.50 L444.75,204.02 L445.00,202.19 L445.25,200.73 L445.50,199.49 L445.75,198.40 L446.00,197.56 L446.25,196.93 L446.50,196.49 L446.75,196.19 L447.00,196.01 L447.25,195.83 L447.50,195.51 L447.75,194.97 L448.00,194.28 L448.25,193.66 L448.50,193.26 L448.75,193.05 L449.00,192.88 L449.25,192.57 L449.50,192.20 L449.75,191.99 L450.00,192.19 L450.25,192.83 L450.50,193.70 L450.75,194.52 L451.00,195.02 L451.25,195.05 L451.50,194.56 L451.75,193.76 L452.00,193.05 L452.25,192.86 L452.50,193.33 L452.75,194.29 L453.00,195.41 L453.25,196.39 L453.50,197.02 L453.75,197.17 L454.00,196.85 L454.25,196.28 L454.50,195.67 L454.75,195.25 L455.00,195.02 L455.25,194.94 L455.50,194.87 L455.75,194.72 L456.00,194.54 L456.25,194.46 L456.50,194.60 L456.75,194.89 L457.00,195.14 L457.25,195.21 L457.50,195.10 L457.75,194.94 L458.00,194.75 L458.25,194.54 L458.50,194.30 L458.75,194.38 L459.00,195.50 L459.25,198.61 L459.50,204.58 L459.75,213.93 L460.00,226.63 L460.25,241.33 L460.50,254.98 L460.75,263.66 L460.90,265.19 L461.00,256.01 L461.25,238.67 L461.50,227.23 L461.75,219.80 L462.00,214.86 L462.25,211.20 L462.50,208.12 L462.75,205.38 L463.00,203.01 L463.25,201.93 L463.50,201.28 L463.75,201.00 L464.00,200.92 L464.25,200.75 L464.50,200.27 L464.75,199.47 L465.00,198.49 L465.25,197.55 L465.50,196.72 L465.75,196.00 L466.00,195.38 L466.25,194.88 L466.50,194.61 L466.75,194.70 L467.00,195.27 L467.25,196.35 L467.50,197.69 L467.75,198.91 L468.00,199.76 L468.25,200.27 L468.50,200.70 L468.75,201.23 L469.00,201.81 L469.25,202.25 L469.50,202.38 L469.75,202.24 L470.00,202.06 L470.25,202.01 L470.50,202.13 L470.75,202.38 L471.00,202.72 L471.25,203.16 L471.50,203.67 L471.75,204.10 L472.00,204.30 L472.25,204.19 L472.50,203.87 L472.75,203.50 L473.00,203.18 L473.25,202.95 L473.50,202.95 L473.75,203.23 L474.00,203.82 L474.25,204.55 L474.50,205.19 L474.75,205.65 L475.00,206.00 L475.25,206.31 L475.50,206.53 L475.75,206.47 L476.00,206.08 L476.25,205.41 L476.50,204.74" fill="none" stroke="#777" stroke-width="1.0" stroke-linejoin="round" />
<line x1="137.0" y1="194.95" x2="475.3" y2="194.95" stroke="#ee8686" stroke-opacity="0.45" stroke-width="3.4"/>
<path d="M138.50,878.20 L151.30,867.00 L157.40,853.50 L165.20,795.00 L173.10,734.40 L177.20,716.40 L184.00,692.00 L190.70,669.20 L198.10,662.00 L205.40,657.10 L215.90,650.30 L224.00,646.20 L235.30,639.30 L254.70,630.40 L270.90,624.40 L283.00,621.10 L295.10,617.50 L311.30,612.60 L321.00,609.30 L330.60,607.20 L348.90,601.50 L370.00,597.10 L387.40,593.20 L398.90,590.80 L412.40,588.20 L425.90,585.30 L445.10,581.90 L464.40,579.30 L487.50,576.80" fill="none" stroke="#999" stroke-width="1.3" stroke-linejoin="round" />
<rect x="150.70" y="853.95" width="10.6" height="12.1" fill="#000"/>
<rect x="169.00" y="721.45" width="10.6" height="12.1" fill="#000"/>
<rect x="187.50" y="657.55" width="10.6" height="12.1" fill="#000"/>
<rect x="205.30" y="651.75" width="10.6" height="12.1" fill="#000"/>
<rect x="224.30" y="637.35" width="10.6" height="12.1" fill="#000"/>
<rect x="262.30" y="607.45" width="10.6" height="12.1" fill="#000"/>
<rect x="281.40" y="608.05" width="10.6" height="12.1" fill="#000"/>
<rect x="300.40" y="609.45" width="10.6" height="12.1" fill="#000"/>
<rect x="320.30" y="600.95" width="10.6" height="12.1" fill="#000"/>
<rect x="340.00" y="602.35" width="10.6" height="12.1" fill="#000"/>
<rect x="359.90" y="597.75" width="10.6" height="12.1" fill="#000"/>
<rect x="380.20" y="596.55" width="10.6" height="12.1" fill="#000"/>
<rect x="399.90" y="579.95" width="10.6" height="12.1" fill="#000"/>
<rect x="420.60" y="568.45" width="10.6" height="12.1" fill="#000"/>
<text transform="translate(45.63,48.17) scale(0.8597,1)" font-family='"Liberation Sans", Arial, sans-serif' font-weight="bold" font-size="62.73" fill="#000">a</text>
<text transform="translate(124.31,1103.00) scale(0.9779,1)" font-family='"Liberation Serif", "Times New Roman", serif' font-weight="bold" font-size="54.35" fill="#000">[ToxR-C]/[cFP]</text>
<line x1="778.70" y1="146.60" x2="778.70" y2="158.60" stroke="#555" stroke-width="1.8"/>
<line x1="863.62" y1="146.60" x2="863.62" y2="158.60" stroke="#555" stroke-width="1.8"/>
<line x1="948.55" y1="146.60" x2="948.55" y2="158.60" stroke="#555" stroke-width="1.8"/>
<line x1="1033.47" y1="146.60" x2="1033.47" y2="158.60" stroke="#555" stroke-width="1.8"/>
<line x1="1118.40" y1="146.60" x2="1118.40" y2="158.60" stroke="#555" stroke-width="1.8"/>
<line x1="821.16" y1="146.60" x2="821.16" y2="153.10" stroke="#555" stroke-width="1.8"/>
<line x1="906.09" y1="146.60" x2="906.09" y2="153.10" stroke="#555" stroke-width="1.8"/>
<line x1="991.01" y1="146.60" x2="991.01" y2="153.10" stroke="#555" stroke-width="1.8"/>
<line x1="1075.94" y1="146.60" x2="1075.94" y2="153.10" stroke="#555" stroke-width="1.8"/>
<text transform="translate(778.70,129.48) scale(0.8000,1)" text-anchor="middle" font-family='"Liberation Sans", Arial, sans-serif' font-size="22.11" fill="#222">0</text>
<text transform="translate(863.62,129.48) scale(0.8000,1)" text-anchor="middle" font-family='"Liberation Sans", Arial, sans-serif' font-size="22.11" fill="#222">10</text>
<text transform="translate(948.55,129.48) scale(0.8000,1)" text-anchor="middle" font-family='"Liberation Sans", Arial, sans-serif' font-size="22.11" fill="#222">20</text>
<text transform="translate(1033.47,129.48) scale(0.8000,1)" text-anchor="middle" font-family='"Liberation Sans", Arial, sans-serif' font-size="22.11" fill="#222">30</text>
<text transform="translate(1118.40,129.48) scale(0.8000,1)" text-anchor="middle" font-family='"Liberation Sans", Arial, sans-serif' font-size="22.11" fill="#222">40</text>
<line x1="726.40" y1="172.30" x2="736.40" y2="172.30" stroke="#555" stroke-width="2.4"/>
<line x1="1152.20" y1="172.30" x2="1161.20" y2="172.30" stroke="#555" stroke-width="2.4"/>
<line x1="726.40" y1="223.65" x2="736.40" y2="223.65" stroke="#555" stroke-width="2.4"/>
<line x1="1152.20" y1="223.65" x2="1161.20" y2="223.65" stroke="#555" stroke-width="2.4"/>
<line x1="726.40" y1="275.00" x2="736.40" y2="275.00" stroke="#555" stroke-width="2.4"/>
<line x1="1152.20" y1="275.00" x2="1161.20" y2="275.00" stroke="#555" stroke-width="2.4"/>
<line x1="726.40" y1="326.35" x2="736.40" y2="326.35" stroke="#555" stroke-width="2.4"/>
<line x1="1152.20" y1="326.35" x2="1161.20" y2="326.35" stroke="#555" stroke-width="2.4"/>
<line x1="726.40" y1="377.70" x2="736.40" y2="377.70" stroke="#555" stroke-width="2.4"/>
<line x1="1152.20" y1="377.70" x2="1161.20" y2="377.70" stroke="#555" stroke-width="2.4"/>
<line x1="726.40" y1="429.05" x2="736.40" y2="429.05" stroke="#555" stroke-width="2.4"/>
<line x1="1152.20" y1="429.05" x2="1161.20" y2="429.05" stroke="#555" stroke-width="2.4"/>
<line x1="726.40" y1="480.40" x2="736.40" y2="480.40" stroke="#555" stroke-width="2.4"/>
<line x1="1152.20" y1="480.40" x2="1161.20" y2="480.40" stroke="#555" stroke-width="2.4"/>
<line x1="726.40" y1="531.75" x2="736.40" y2="531.75" stroke="#555" stroke-width="2.4"/>
<line x1="1152.20" y1="531.75" x2="1161.20" y2="531.75" stroke="#555" stroke-width="2.4"/>
<line x1="730.90" y1="197.97" x2="736.40" y2="197.97" stroke="#555" stroke-width="1.8"/>
<line x1="1155.70" y1="197.97" x2="1161.20" y2="197.97" stroke="#555" stroke-width="1.8"/>
<line x1="730.90" y1="249.32" x2="736.40" y2="249.32" stroke="#555" stroke-width="1.8"/>
<line x1="1155.70" y1="249.32" x2="1161.20" y2="249.32" stroke="#555" stroke-width="1.8"/>
<line x1="730.90" y1="300.68" x2="736.40" y2="300.68" stroke="#555" stroke-width="1.8"/>
<line x1="1155.70" y1="300.68" x2="1161.20" y2="300.68" stroke="#555" stroke-width="1.8"/>
<line x1="730.90" y1="352.02" x2="736.40" y2="352.02" stroke="#555" stroke-width="1.8"/>
<line x1="1155.70" y1="352.02" x2="1161.20" y2="352.02" stroke="#555" stroke-width="1.8"/>
<line x1="730.90" y1="403.38" x2="736.40" y2="403.38" stroke="#555" stroke-width="1.8"/>
<line x1="1155.70" y1="403.38" x2="1161.20" y2="403.38" stroke="#555" stroke-width="1.8"/>
<line x1="730.90" y1="454.72" x2="736.40" y2="454.72" stroke="#555" stroke-width="1.8"/>
<line x1="1155.70" y1="454.72" x2="1161.20" y2="454.72" stroke="#555" stroke-width="1.8"/>
<line x1="730.90" y1="506.07" x2="736.40" y2="506.07" stroke="#555" stroke-width="1.8"/>
<line x1="1155.70" y1="506.07" x2="1161.20" y2="506.07" stroke="#555" stroke-width="1.8"/>
<line x1="730.90" y1="146.62" x2="736.40" y2="146.62" stroke="#555" stroke-width="1.8"/>
<line x1="1155.70" y1="146.62" x2="1161.20" y2="146.62" stroke="#555" stroke-width="1.8"/>
<text transform="translate(720.50,177.37) scale(0.8000,1)" text-anchor="end" font-family='"Liberation Sans", Arial, sans-serif' font-size="23.24" fill="#222">5.02</text>
<text transform="translate(720.50,228.72) scale(0.8000,1)" text-anchor="end" font-family='"Liberation Sans", Arial, sans-serif' font-size="23.24" fill="#222">4.19</text>
<text transform="translate(720.50,280.07) scale(0.8000,1)" text-anchor="end" font-family='"Liberation Sans", Arial, sans-serif' font-size="23.24" fill="#222">3.35</text>
<text transform="translate(720.50,331.42) scale(0.8000,1)" text-anchor="end" font-family='"Liberation Sans", Arial, sans-serif' font-size="23.24" fill="#222">2.51</text>
<text transform="translate(720.50,382.77) scale(0.8000,1)" text-anchor="end" font-family='"Liberation Sans", Arial, sans-serif' font-size="23.24" fill="#222">1.67</text>
<text transform="translate(720.50,434.12) scale(0.8000,1)" text-anchor="end" font-family='"Liberation Sans", Arial, sans-serif' font-size="23.24" fill="#222">0.84</text>
<text transform="translate(720.50,485.47) scale(0.8000,1)" text-anchor="end" font-family='"Liberation Sans", Arial, sans-serif' font-size="23.24" fill="#222">0.00</text>
<line x1="771.30" y1="532.30" x2="771.30" y2="544.30" stroke="#888" stroke-width="1.8"/>
<line x1="842.22" y1="532.30" x2="842.22" y2="544.30" stroke="#888" stroke-width="1.8"/>
<line x1="913.14" y1="532.30" x2="913.14" y2="544.30" stroke="#888" stroke-width="1.8"/>
<line x1="984.06" y1="532.30" x2="984.06" y2="544.30" stroke="#888" stroke-width="1.8"/>
<line x1="1054.98" y1="532.30" x2="1054.98" y2="544.30" stroke="#888" stroke-width="1.8"/>
<line x1="1125.90" y1="532.30" x2="1125.90" y2="544.30" stroke="#888" stroke-width="1.8"/>
<line x1="735.84" y1="532.30" x2="735.84" y2="538.80" stroke="#888" stroke-width="1.8"/>
<line x1="806.76" y1="532.30" x2="806.76" y2="538.80" stroke="#888" stroke-width="1.8"/>
<line x1="877.68" y1="532.30" x2="877.68" y2="538.80" stroke="#888" stroke-width="1.8"/>
<line x1="948.60" y1="532.30" x2="948.60" y2="538.80" stroke="#888" stroke-width="1.8"/>
<line x1="1019.52" y1="532.30" x2="1019.52" y2="538.80" stroke="#888" stroke-width="1.8"/>
<line x1="1090.44" y1="532.30" x2="1090.44" y2="538.80" stroke="#888" stroke-width="1.8"/>
<line x1="1161.36" y1="532.30" x2="1161.36" y2="538.80" stroke="#888" stroke-width="1.8"/>
<line x1="771.30" y1="917.30" x2="771.30" y2="929.30" stroke="#555" stroke-width="1.8"/>
<line x1="842.22" y1="917.30" x2="842.22" y2="929.30" stroke="#555" stroke-width="1.8"/>
<line x1="913.14" y1="917.30" x2="913.14" y2="929.30" stroke="#555" stroke-width="1.8"/>
<line x1="984.06" y1="917.30" x2="984.06" y2="929.30" stroke="#555" stroke-width="1.8"/>
<line x1="1054.98" y1="917.30" x2="1054.98" y2="929.30" stroke="#555" stroke-width="1.8"/>
<line x1="1125.90" y1="917.30" x2="1125.90" y2="929.30" stroke="#555" stroke-width="1.8"/>
<line x1="735.84" y1="917.30" x2="735.84" y2="923.80" stroke="#555" stroke-width="1.8"/>
<line x1="806.76" y1="917.30" x2="806.76" y2="923.80" stroke="#555" stroke-width="1.8"/>
<line x1="877.68" y1="917.30" x2="877.68" y2="923.80" stroke="#555" stroke-width="1.8"/>
<line x1="948.60" y1="917.30" x2="948.60" y2="923.80" stroke="#555" stroke-width="1.8"/>
<line x1="1019.52" y1="917.30" x2="1019.52" y2="923.80" stroke="#555" stroke-width="1.8"/>
<line x1="1090.44" y1="917.30" x2="1090.44" y2="923.80" stroke="#555" stroke-width="1.8"/>
<line x1="1161.36" y1="917.30" x2="1161.36" y2="923.80" stroke="#555" stroke-width="1.8"/>
<text transform="translate(771.30,953.88) scale(0.8000,1)" text-anchor="middle" font-family='"Liberation Sans", Arial, sans-serif' font-size="21.55" fill="#222">0</text>
<text transform="translate(842.22,953.88) scale(0.8000,1)" text-anchor="middle" font-family='"Liberation Sans", Arial, sans-serif' font-size="21.55" fill="#222">2</text>
<text transform="translate(913.14,953.88) scale(0.8000,1)" text-anchor="middle" font-family='"Liberation Sans", Arial, sans-serif' font-size="21.55" fill="#222">4</text>
<text transform="translate(984.06,953.88) scale(0.8000,1)" text-anchor="middle" font-family='"Liberation Sans", Arial, sans-serif' font-size="21.55" fill="#222">6</text>
<text transform="translate(1054.98,953.88) scale(0.8000,1)" text-anchor="middle" font-family='"Liberation Sans", Arial, sans-serif' font-size="21.55" fill="#222">8</text>
<text transform="translate(1125.90,953.88) scale(0.8000,1)" text-anchor="middle" font-family='"Liberation Sans", Arial, sans-serif' font-size="21.55" fill="#222">10</text>
<line x1="726.40" y1="587.24" x2="736.40" y2="587.24" stroke="#555" stroke-width="2.4"/>
<line x1="1152.20" y1="587.24" x2="1161.20" y2="587.24" stroke="#555" stroke-width="2.4"/>
<line x1="726.40" y1="642.18" x2="736.40" y2="642.18" stroke="#555" stroke-width="2.4"/>
<line x1="1152.20" y1="642.18" x2="1161.20" y2="642.18" stroke="#555" stroke-width="2.4"/>
<line x1="726.40" y1="697.12" x2="736.40" y2="697.12" stroke="#555" stroke-width="2.4"/>
<line x1="1152.20" y1="697.12" x2="1161.20" y2="697.12" stroke="#555" stroke-width="2.4"/>
<line x1="726.40" y1="752.06" x2="736.40" y2="752.06" stroke="#555" stroke-width="2.4"/>
<line x1="1152.20" y1="752.06" x2="1161.20" y2="752.06" stroke="#555" stroke-width="2.4"/>
<line x1="726.40" y1="807.00" x2="736.40" y2="807.00" stroke="#555" stroke-width="2.4"/>
<line x1="1152.20" y1="807.00" x2="1161.20" y2="807.00" stroke="#555" stroke-width="2.4"/>
<line x1="726.40" y1="861.94" x2="736.40" y2="861.94" stroke="#555" stroke-width="2.4"/>
<line x1="1152.20" y1="861.94" x2="1161.20" y2="861.94" stroke="#555" stroke-width="2.4"/>
<line x1="726.40" y1="916.88" x2="736.40" y2="916.88" stroke="#555" stroke-width="2.4"/>
<line x1="1152.20" y1="916.88" x2="1161.20" y2="916.88" stroke="#555" stroke-width="2.4"/>
<line x1="730.90" y1="559.77" x2="736.40" y2="559.77" stroke="#555" stroke-width="1.8"/>
<line x1="1155.70" y1="559.77" x2="1161.20" y2="559.77" stroke="#555" stroke-width="1.8"/>
<line x1="730.90" y1="614.71" x2="736.40" y2="614.71" stroke="#555" stroke-width="1.8"/>
<line x1="1155.70" y1="614.71" x2="1161.20" y2="614.71" stroke="#555" stroke-width="1.8"/>
<line x1="730.90" y1="669.65" x2="736.40" y2="669.65" stroke="#555" stroke-width="1.8"/>
<line x1="1155.70" y1="669.65" x2="1161.20" y2="669.65" stroke="#555" stroke-width="1.8"/>
<line x1="730.90" y1="724.59" x2="736.40" y2="724.59" stroke="#555" stroke-width="1.8"/>
<line x1="1155.70" y1="724.59" x2="1161.20" y2="724.59" stroke="#555" stroke-width="1.8"/>
<line x1="730.90" y1="779.53" x2="736.40" y2="779.53" stroke="#555" stroke-width="1.8"/>
<line x1="1155.70" y1="779.53" x2="1161.20" y2="779.53" stroke="#555" stroke-width="1.8"/>
<line x1="730.90" y1="834.47" x2="736.40" y2="834.47" stroke="#555" stroke-width="1.8"/>
<line x1="1155.70" y1="834.47" x2="1161.20" y2="834.47" stroke="#555" stroke-width="1.8"/>
<line x1="730.90" y1="889.41" x2="736.40" y2="889.41" stroke="#555" stroke-width="1.8"/>
<line x1="1155.70" y1="889.41" x2="1161.20" y2="889.41" stroke="#555" stroke-width="1.8"/>
<text transform="translate(720.50,593.51) scale(0.8000,1)" text-anchor="end" font-family='"Liberation Sans", Arial, sans-serif' font-size="23.38" fill="#222">3.77</text>
<text transform="translate(720.50,648.45) scale(0.8000,1)" text-anchor="end" font-family='"Liberation Sans", Arial, sans-serif' font-size="23.38" fill="#222">3.35</text>
<text transform="translate(720.50,703.39) scale(0.8000,1)" text-anchor="end" font-family='"Liberation Sans", Arial, sans-serif' font-size="23.38" fill="#222">2.93</text>
<text transform="translate(720.50,758.33) scale(0.8000,1)" text-anchor="end" font-family='"Liberation Sans", Arial, sans-serif' font-size="23.38" fill="#222">2.51</text>
<text transform="translate(720.50,813.27) scale(0.8000,1)" text-anchor="end" font-family='"Liberation Sans", Arial, sans-serif' font-size="23.38" fill="#222">2.09</text>
<text transform="translate(720.50,868.21) scale(0.8000,1)" text-anchor="end" font-family='"Liberation Sans", Arial, sans-serif' font-size="23.38" fill="#222">1.67</text>
<text transform="translate(720.50,923.15) scale(0.8000,1)" text-anchor="end" font-family='"Liberation Sans", Arial, sans-serif' font-size="23.38" fill="#222">1.26</text>
<line x1="726.40" y1="532.30" x2="736.40" y2="532.30" stroke="#555" stroke-width="2.4"/>
<text transform="translate(720.50,537.47) scale(0.8000,1)" text-anchor="end" font-family='"Liberation Sans", Arial, sans-serif' font-size="23.24" fill="#222">-0.84</text>
<text transform="translate(720.50,537.47) scale(0.8000,1)" text-anchor="end" font-family='"Liberation Sans", Arial, sans-serif' font-size="23.24" fill="#222">4.19</text>
<text transform="translate(890.91,84.80) scale(0.7975,1)" font-family='"Liberation Sans", Arial, sans-serif' font-weight="normal" font-size="30.87" fill="#222">Time (min)</text>
<text transform="translate(885.85,1001.20) scale(0.7931,1)" font-family='"Liberation Sans", Arial, sans-serif' font-weight="normal" font-size="30.72" fill="#222">Molar Ratio</text>
<text transform="translate(663.70,406.84) scale(0.8315,1) rotate(-90)" font-family='"Liberation Sans", Arial, sans-serif' font-weight="normal" font-size="30.50" fill="#222">µWatts</text>
<text transform="translate(669.10,912.82) scale(0.8536,1) rotate(-90)" font-family='"Liberation Sans", Arial, sans-serif' font-weight="normal" font-size="30.22" fill="#222">KJoules/Mole of Injectant</text>
<line x1="736.40" y1="532.30" x2="1161.20" y2="532.30" stroke="#8c8c8c" stroke-width="3.0"/>
<line x1="736.40" y1="146.60" x2="736.40" y2="917.30" stroke="#444444" stroke-width="2.4"/>
<line x1="1161.20" y1="146.60" x2="1161.20" y2="917.30" stroke="#444444" stroke-width="2.4"/>
<line x1="735.20" y1="146.60" x2="1162.40" y2="146.60" stroke="#444444" stroke-width="2.4"/>
<line x1="735.20" y1="917.30" x2="1162.40" y2="917.30" stroke="#444444" stroke-width="2.4"/>
<path d="M780.00,480.68 L780.25,480.72 L780.50,480.74 L780.75,480.74 L781.00,480.75 L781.25,480.80 L781.50,480.92 L781.75,481.11 L782.00,481.31 L782.25,481.48 L782.50,481.56 L782.75,481.57 L783.00,481.53 L783.25,481.46 L783.50,481.36 L783.75,481.24 L784.00,481.06 L784.25,480.83 L784.50,480.58 L784.75,480.34 L785.00,480.16 L785.25,480.05 L785.50,480.03 L785.75,480.08 L786.00,480.17 L786.25,480.26 L786.50,480.38 L786.75,480.52 L787.00,480.68 L787.25,480.68 L787.50,479.87 L787.75,476.54 L788.00,467.70 L788.25,451.12 L788.50,429.59 L788.75,412.82 L788.90,409.60 L789.00,421.10 L789.25,441.79 L789.50,454.66 L789.75,462.74 L790.00,467.84 L790.25,471.10 L790.50,473.23 L790.75,474.70 L791.00,475.80 L791.25,476.70 L791.50,477.49 L791.75,478.14 L792.00,478.66 L792.25,479.01 L792.50,479.19 L792.75,479.24 L793.00,479.20 L793.25,479.11 L793.50,478.85 L793.75,478.22 L794.00,476.83 L794.25,474.40 L794.50,471.02 L794.75,467.39 L795.00,464.73 L795.25,464.13 L795.50,465.91 L795.75,469.36 L796.00,473.26 L796.25,476.58 L796.50,478.89 L796.75,480.28 L797.00,481.03 L797.25,481.39 L797.50,481.48 L797.75,481.39 L798.00,481.15 L798.25,480.86 L798.50,480.58 L798.75,480.40 L799.00,480.33 L799.25,480.36 L799.50,480.48 L799.75,480.64 L800.00,480.84 L800.25,481.08 L800.50,481.36 L800.75,481.64 L801.00,481.90 L801.25,482.10 L801.50,482.22 L801.75,482.28 L802.00,482.29 L802.25,482.28 L802.50,482.26 L802.75,482.23 L803.00,482.19 L803.25,482.11 L803.50,481.98 L803.75,481.79 L804.00,481.54 L804.25,481.27 L804.50,481.01 L804.75,480.76 L805.00,480.31 L805.25,478.44 L805.50,471.05 L805.75,448.58 L806.00,397.86 L806.25,315.36 L806.50,225.26 L806.75,175.16 L806.80,173.60 L807.00,263.89 L807.25,337.41 L807.50,383.26 L807.75,412.24 L808.00,430.88 L808.25,443.14 L808.50,451.41 L808.75,457.16 L809.00,461.29 L809.25,464.36 L809.50,466.71 L809.75,468.59 L810.00,470.13 L810.25,471.43 L810.50,472.52 L810.75,473.47 L811.00,474.30 L811.25,475.02 L811.50,475.65 L811.75,476.18 L812.00,476.61 L812.25,476.95 L812.50,477.20 L812.75,477.39 L813.00,477.58 L813.25,477.80 L813.50,478.07 L813.75,478.40 L814.00,478.76 L814.25,479.14 L814.50,479.52 L814.75,479.87 L815.00,480.17 L815.25,480.42 L815.50,480.60 L815.75,480.73 L816.00,480.82 L816.25,480.89 L816.50,480.94 L816.75,480.97 L817.00,480.98 L817.25,480.97 L817.50,480.96 L817.75,480.93 L818.00,480.90 L818.25,480.87 L818.50,480.84 L818.75,480.80 L819.00,480.74 L819.25,480.66 L819.50,480.56 L819.75,480.44 L820.00,480.37 L820.25,480.38 L820.50,480.51 L820.75,480.73 L821.00,481.01 L821.25,481.31 L821.50,481.50 L821.75,481.24 L822.00,479.06 L822.25,470.45 L822.50,445.80 L822.75,393.81 L823.00,315.41 L823.25,238.04 L823.50,204.98 L823.75,301.59 L824.00,361.34 L824.25,398.65 L824.50,422.26 L824.75,437.50 L825.00,447.57 L825.25,454.44 L825.50,459.30 L825.75,462.86 L826.00,465.57 L826.25,467.71 L826.50,469.45 L826.75,470.91 L827.00,472.15 L827.25,473.22 L827.50,474.14 L827.75,474.92 L828.00,475.57 L828.25,476.09 L828.50,476.49 L828.75,476.77 L829.00,476.97 L829.25,477.12 L829.50,477.27 L829.75,477.46 L830.00,477.72 L830.25,478.05 L830.50,478.41 L830.75,478.79 L831.00,479.16 L831.25,479.51 L831.50,479.82 L831.75,480.09 L832.00,480.28 L832.25,480.40 L832.50,480.45 L832.75,480.46 L833.00,480.46 L833.25,480.47 L833.50,480.51 L833.75,480.56 L834.00,480.61 L834.25,480.63 L834.50,480.62 L834.75,480.59 L835.00,480.57 L835.25,480.58 L835.50,480.62 L835.75,480.69 L836.00,480.77 L836.25,480.85 L836.50,480.95 L836.75,481.08 L837.00,481.25 L837.25,481.44 L837.50,481.63 L837.75,481.75 L838.00,481.75 L838.25,481.64 L838.50,481.43 L838.75,481.12 L839.00,480.54 L839.25,478.65 L839.50,471.81 L839.75,451.56 L840.00,406.23 L840.25,332.71 L840.50,252.53 L840.75,207.98 L840.80,206.58 L841.00,286.91 L841.25,352.35 L841.50,393.18 L841.75,418.99 L842.00,435.58 L842.25,446.48 L842.50,453.86 L842.75,459.04 L843.00,462.82 L843.25,465.70 L843.50,467.96 L843.75,469.76 L844.00,471.16 L844.25,472.23 L844.50,473.03 L844.75,473.64 L845.00,474.15 L845.25,474.62 L845.50,475.10 L845.75,475.59 L846.00,476.08 L846.25,476.52 L846.50,476.89 L846.75,477.20 L847.00,477.46 L847.25,477.69 L847.50,477.90 L847.75,478.12 L848.00,478.36 L848.25,478.64 L848.50,478.92 L848.75,479.20 L849.00,479.43 L849.25,479.57 L849.50,479.65 L849.75,479.71 L850.00,479.77 L850.25,479.87 L850.50,480.02 L850.75,480.22 L851.00,480.46 L851.25,480.72 L851.50,480.99 L851.75,481.25 L852.00,481.47 L852.25,481.65 L852.50,481.76 L852.75,481.81 L853.00,481.78 L853.25,481.68 L853.50,481.52 L853.75,481.33 L854.00,481.14 L854.25,480.98 L854.50,480.86 L854.75,480.80 L855.00,480.75 L855.25,480.69 L855.50,480.57 L855.75,480.06 L856.00,477.80 L856.25,469.47 L856.50,445.83 L856.75,395.99 L857.00,320.72 L857.25,246.32 L857.50,214.48 L857.75,307.73 L858.00,365.57 L858.25,401.80 L858.50,424.79 L858.75,439.63 L859.00,449.43 L859.25,456.07 L859.50,460.71 L859.75,464.06 L860.00,466.58 L860.25,468.56 L860.50,470.18 L860.75,471.57 L861.00,472.76 L861.25,473.80 L861.50,474.72 L861.75,475.52 L862.00,476.20 L862.25,476.77 L862.50,477.20 L862.75,477.50 L863.00,477.71 L863.25,477.90 L863.50,478.15 L863.75,478.49 L864.00,478.89 L864.25,479.31 L864.50,479.71 L864.75,480.04 L865.00,480.29 L865.25,480.47 L865.50,480.57 L865.75,480.61 L866.00,480.62 L866.25,480.60 L866.50,480.57 L866.75,480.53 L867.00,480.49 L867.25,480.45 L867.50,480.41 L867.75,480.40 L868.00,480.46 L868.25,480.57 L868.50,480.71 L868.75,480.85 L869.00,480.98 L869.25,481.08 L869.50,481.14 L869.75,481.17 L870.00,481.18 L870.25,481.13 L870.50,481.02 L870.75,480.85 L871.00,480.66 L871.25,480.47 L871.50,480.30 L871.75,480.17 L872.00,480.06 L872.25,479.96 L872.50,479.81 L872.75,479.33 L873.00,477.26 L873.25,469.52 L873.50,447.42 L873.75,400.69 L874.00,330.03 L874.25,260.11 L874.50,230.18 L874.75,317.90 L875.00,372.33 L875.25,406.46 L875.50,428.15 L875.75,442.19 L876.00,451.49 L876.25,457.82 L876.50,462.26 L876.75,465.48 L877.00,467.88 L877.25,469.74 L877.50,471.24 L877.75,472.50 L878.00,473.61 L878.25,474.61 L878.50,475.49 L878.75,476.26 L879.00,476.89 L879.25,477.38 L879.50,477.75 L879.75,478.06 L880.00,478.31 L880.25,478.56 L880.50,478.77 L880.75,478.93 L881.00,479.06 L881.25,479.13 L881.50,479.17 L881.75,479.18 L882.00,479.20 L882.25,479.24 L882.50,479.30 L882.75,479.41 L883.00,479.54 L883.25,479.68 L883.50,479.79 L883.75,479.87 L884.00,479.89 L884.25,479.89 L884.50,479.90 L884.75,479.96 L885.00,480.09 L885.25,480.32 L885.50,480.60 L885.75,480.90 L886.00,481.16 L886.25,481.34 L886.50,481.44 L886.75,481.48 L887.00,481.51 L887.25,481.56 L887.50,481.63 L887.75,481.73 L888.00,481.81 L888.25,481.86 L888.50,481.88 L888.75,481.85 L889.00,481.80 L889.25,481.73 L889.50,481.63 L889.75,481.22 L890.00,479.26 L890.25,471.86 L890.50,450.73 L890.75,406.08 L891.00,338.64 L891.25,271.98 L891.50,243.48 L891.75,326.84 L892.00,378.44 L892.25,410.70 L892.50,431.18 L892.75,444.44 L893.00,453.24 L893.25,459.23 L893.50,463.43 L893.75,466.47 L894.00,468.74 L894.25,470.48 L894.50,471.84 L894.75,472.90 L895.00,473.72 L895.25,474.36 L895.50,474.91 L895.75,475.40 L896.00,475.89 L896.25,476.39 L896.50,476.92 L896.75,477.46 L897.00,478.01 L897.25,478.54 L897.50,479.02 L897.75,479.43 L898.00,479.75 L898.25,479.96 L898.50,480.08 L898.75,480.14 L899.00,480.19 L899.25,480.24 L899.50,480.32 L899.75,480.38 L900.00,480.43 L900.25,480.44 L900.50,480.41 L900.75,480.36 L901.00,480.31 L901.25,480.29 L901.50,480.33 L901.75,480.45 L902.00,480.66 L902.25,480.92 L902.50,481.21 L902.75,481.49 L903.00,481.70 L903.25,481.83 L903.50,481.89 L903.75,481.88 L904.00,481.84 L904.25,481.79 L904.50,481.77 L904.75,481.76 L905.00,481.75 L905.25,481.72 L905.50,481.66 L905.75,481.59 L906.00,481.49 L906.25,481.25 L906.50,480.21 L906.75,475.94 L907.00,462.32 L907.25,429.87 L907.50,373.56 L907.75,306.50 L908.00,261.50 L908.10,256.98 L908.25,308.43 L908.50,367.15 L908.75,403.75 L909.00,426.84 L909.25,441.65 L909.50,451.34 L909.75,457.83 L910.00,462.30 L910.25,465.47 L910.50,467.81 L910.75,469.60 L911.00,471.04 L911.25,472.25 L911.50,473.28 L911.75,474.19 L912.00,474.98 L912.25,475.67 L912.50,476.27 L912.75,476.78 L913.00,477.24 L913.25,477.68 L913.50,478.13 L913.75,478.55 L914.00,478.92 L914.25,479.24 L914.50,479.49 L914.75,479.67 L915.00,479.78 L915.25,479.82 L915.50,479.78 L915.75,479.68 L916.00,479.54 L916.25,479.43 L916.50,479.36 L916.75,479.37 L917.00,479.47 L917.25,479.65 L917.50,479.87 L917.75,480.12 L918.00,480.38 L918.25,480.61 L918.50,480.78 L918.75,480.91 L919.00,480.99 L919.25,481.06 L919.50,481.11 L919.75,481.17 L920.00,481.24 L920.25,481.33 L920.50,481.44 L920.75,481.54 L921.00,481.61 L921.25,481.61 L921.50,481.53 L921.75,481.41 L922.00,481.29 L922.25,481.21 L922.50,481.16 L922.75,481.06 L923.00,480.70 L923.25,479.20 L923.50,473.66 L923.75,457.37 L924.00,421.08 L924.25,362.36 L924.50,298.36 L924.75,262.80 L924.80,261.68 L925.00,325.85 L925.25,378.13 L925.50,410.73 L925.75,431.29 L926.00,444.46 L926.25,453.11 L926.50,458.96 L926.75,463.10 L927.00,466.13 L927.25,468.46 L927.50,470.30 L927.75,471.79 L928.00,473.02 L928.25,474.04 L928.50,474.88 L928.75,475.59 L929.00,476.20 L929.25,476.78 L929.50,477.34 L929.75,477.86 L930.00,478.33 L930.25,478.70 L930.50,478.96 L930.75,479.12 L931.00,479.23 L931.25,479.33 L931.50,479.43 L931.75,479.52 L932.00,479.58 L932.25,479.59 L932.50,479.59 L932.75,479.58 L933.00,479.60 L933.25,479.70 L933.50,479.88 L933.75,480.12 L934.00,480.37 L934.25,480.56 L934.50,480.65 L934.75,480.66 L935.00,480.60 L935.25,480.52 L935.50,480.49 L935.75,480.55 L936.00,480.70 L936.25,480.93 L936.50,481.20 L936.75,481.46 L937.00,481.68 L937.25,481.82 L937.50,481.88 L937.75,481.86 L938.00,481.75 L938.25,481.58 L938.50,481.36 L938.75,481.15 L939.00,480.98 L939.25,480.88 L939.50,480.84 L939.75,480.76 L940.00,480.22 L940.25,477.69 L940.50,468.76 L940.75,444.93 L941.00,397.90 L941.25,332.08 L941.50,273.83 L941.70,256.28 L941.75,275.15 L942.00,346.46 L942.25,390.78 L942.50,418.64 L942.75,436.43 L943.00,448.02 L943.25,455.75 L943.50,461.04 L943.75,464.78 L944.00,467.50 L944.25,469.58 L944.50,471.22 L944.75,472.56 L945.00,473.70 L945.25,474.67 L945.50,475.50 L945.75,476.18 L946.00,476.73 L946.25,477.16 L946.50,477.47 L946.75,477.70 L947.00,477.91 L947.25,478.14 L947.50,478.42 L947.75,478.76 L948.00,479.14 L948.25,479.54 L948.50,479.91 L948.75,480.23 L949.00,480.47 L949.25,480.64 L949.50,480.73 L949.75,480.75 L950.00,480.71 L950.25,480.65 L950.50,480.59 L950.75,480.58 L951.00,480.61 L951.25,480.67 L951.50,480.75 L951.75,480.83 L952.00,480.89 L952.25,480.93 L952.50,480.97 L952.75,481.02 L953.00,481.08 L953.25,481.12 L953.50,481.12 L953.75,481.08 L954.00,481.00 L954.25,480.93 L954.50,480.88 L954.75,480.86 L955.00,480.85 L955.25,480.82 L955.50,480.76 L955.75,480.71 L956.00,480.71 L956.25,480.78 L956.50,480.90 L956.75,480.91 L957.00,480.09 L957.25,476.08 L957.50,462.93 L957.75,431.41 L958.00,376.58 L958.25,311.16 L958.50,267.21 L958.60,262.79 L958.75,313.12 L959.00,370.56 L959.25,406.30 L959.50,428.77 L959.75,443.09 L960.00,452.41 L960.25,458.66 L960.50,463.01 L960.75,466.19 L961.00,468.64 L961.25,470.60 L961.50,472.24 L961.75,473.64 L962.00,474.86 L962.25,475.92 L962.50,476.83 L962.75,477.59 L963.00,478.22 L963.25,478.73 L963.50,479.15 L963.75,479.50 L964.00,479.80 L964.25,480.10 L964.50,480.43 L964.75,480.82 L965.00,481.31 L965.25,481.88 L965.50,482.52 L965.75,483.18 L966.00,483.81 L966.25,484.33 L966.50,484.74 L966.75,485.04 L967.00,485.25 L967.25,485.41 L967.50,485.55 L967.75,485.67 L968.00,485.78 L968.25,485.87 L968.50,485.93 L968.75,485.97 L969.00,485.95 L969.25,485.84 L969.50,485.58 L969.75,485.18 L970.00,484.67 L970.25,484.13 L970.50,483.65 L970.75,483.28 L971.00,483.01 L971.25,482.83 L971.50,482.69 L971.75,482.54 L972.00,482.36 L972.25,482.13 L972.50,481.86 L972.75,481.56 L973.00,481.25 L973.25,480.96 L973.50,480.73 L973.75,480.44 L974.00,479.47 L974.25,475.42 L974.50,462.30 L974.75,430.71 L975.00,375.60 L975.25,309.68 L975.50,265.10 L975.60,260.40 L975.75,310.28 L976.00,366.70 L976.25,401.11 L976.50,421.90 L976.75,434.23 L977.00,441.27 L977.25,445.06 L977.50,446.93 L977.75,447.81 L978.00,448.35 L978.25,449.00 L978.50,450.09 L978.75,451.77 L979.00,454.06 L979.25,456.84 L979.50,459.90 L979.75,463.01 L980.00,465.96 L980.25,468.64 L980.50,470.98 L980.75,472.95 L981.00,474.56 L981.25,475.84 L981.50,476.79 L981.75,477.51 L982.00,478.06 L982.25,478.50 L982.50,478.89 L982.75,479.22 L983.00,479.51 L983.25,479.79 L983.50,480.07 L983.75,480.38 L984.00,480.71 L984.25,481.05 L984.50,481.37 L984.75,481.66 L985.00,481.95 L985.25,482.27 L985.50,482.65 L985.75,483.10 L986.00,483.58 L986.25,484.04 L986.50,484.45 L986.75,484.78 L987.00,485.00 L987.25,485.12 L987.50,485.12 L987.75,485.03 L988.00,484.85 L988.25,484.61 L988.50,484.35 L988.75,484.11 L989.00,483.92 L989.25,483.81 L989.50,483.76 L989.75,483.70 L990.00,483.57 L990.25,483.32 L990.50,482.94 L990.75,482.47 L991.00,481.95 L991.25,481.34 L991.50,480.04 L991.75,475.79 L992.00,462.84 L992.25,432.19 L992.50,378.95 L992.75,315.40 L993.00,272.66 L993.10,268.35 L993.25,317.30 L993.50,373.18 L993.75,407.97 L994.00,429.90 L994.25,443.94 L994.50,453.14 L994.75,459.29 L995.00,463.52 L995.25,466.49 L995.50,468.66 L995.75,470.31 L996.00,471.65 L996.25,472.79 L996.50,473.80 L996.75,474.70 L997.00,475.51 L997.25,476.24 L997.50,476.87 L997.75,477.42 L998.00,477.87 L998.25,478.22 L998.50,478.49 L998.75,478.68 L999.00,478.82 L999.25,478.91 L999.50,479.00 L999.75,479.08 L1000.00,479.14 L1000.25,479.17 L1000.50,479.16 L1000.75,479.11 L1001.00,479.09 L1001.25,479.13 L1001.50,479.29 L1001.75,479.54 L1002.00,479.83 L1002.25,480.09 L1002.50,480.28 L1002.75,480.38 L1003.00,480.41 L1003.25,480.42 L1003.50,480.46 L1003.75,480.55 L1004.00,480.68 L1004.25,480.83 L1004.50,480.96 L1004.75,481.06 L1005.00,481.13 L1005.25,481.16 L1005.50,481.17 L1005.75,481.17 L1006.00,481.16 L1006.25,481.16 L1006.50,481.18 L1006.75,481.24 L1007.00,481.34 L1007.25,481.48 L1007.50,481.60 L1007.75,481.57 L1008.00,480.73 L1008.25,476.81 L1008.50,464.13 L1008.75,433.83 L1009.00,381.25 L1009.25,318.66 L1009.50,276.69 L1009.60,272.48 L1009.75,320.37 L1010.00,374.99 L1010.25,408.98 L1010.50,430.39 L1010.75,444.12 L1011.00,453.17 L1011.25,459.36 L1011.50,463.78 L1011.75,467.02 L1012.00,469.40 L1012.25,471.09 L1012.50,472.26 L1012.75,473.07 L1013.00,473.72 L1013.25,474.37 L1013.50,475.09 L1013.75,475.89 L1014.00,476.68 L1014.25,477.40 L1014.50,477.99 L1014.75,478.43 L1015.00,478.73 L1015.25,478.95 L1015.50,479.13 L1015.75,479.32 L1016.00,479.53 L1016.25,479.74 L1016.50,479.91 L1016.75,480.03 L1017.00,480.10 L1017.25,480.15 L1017.50,480.21 L1017.75,480.29 L1018.00,480.39 L1018.25,480.50 L1018.50,480.59 L1018.75,480.65 L1019.00,480.68 L1019.25,480.70 L1019.50,480.69 L1019.75,480.68 L1020.00,480.66 L1020.25,480.63 L1020.50,480.58 L1020.75,480.54 L1021.00,480.50 L1021.25,480.47 L1021.50,480.42 L1021.75,480.35 L1022.00,480.26 L1022.25,480.17 L1022.50,480.12 L1022.75,480.12 L1023.00,480.20 L1023.25,480.33 L1023.50,480.49 L1023.75,480.63 L1024.00,480.73 L1024.25,480.80 L1024.50,480.83 L1024.75,480.84 L1025.00,480.80 L1025.25,480.62 L1025.50,479.69 L1025.75,475.86 L1026.00,463.66 L1026.25,434.52 L1026.50,383.84 L1026.75,323.30 L1027.00,282.58 L1027.10,278.49 L1027.25,325.18 L1027.50,378.44 L1027.75,411.53 L1028.00,432.29 L1028.25,445.53 L1028.50,454.18 L1028.75,460.01 L1029.00,464.05 L1029.25,466.95 L1029.50,469.09 L1029.75,470.72 L1030.00,472.03 L1030.25,473.14 L1030.50,474.16 L1030.75,475.12 L1031.00,476.04 L1031.25,476.91 L1031.50,477.70 L1031.75,478.38 L1032.00,478.94 L1032.25,479.36 L1032.50,479.67 L1032.75,479.85 L1033.00,479.93 L1033.25,479.91 L1033.50,479.83 L1033.75,479.69 L1034.00,479.51 L1034.25,479.32 L1034.50,479.15 L1034.75,479.05 L1035.00,479.06 L1035.25,479.20 L1035.50,479.46 L1035.75,479.81 L1036.00,480.21 L1036.25,480.62 L1036.50,480.99 L1036.75,481.29 L1037.00,481.48 L1037.25,481.56 L1037.50,481.55 L1037.75,481.46 L1038.00,481.32 L1038.25,481.13 L1038.50,480.90 L1038.75,480.65 L1039.00,480.43 L1039.25,480.24 L1039.50,480.12 L1039.75,480.08 L1040.00,480.10 L1040.25,480.15 L1040.50,480.21 L1040.75,480.24 L1041.00,480.25 L1041.25,480.27 L1041.50,480.32 L1041.75,480.41 L1042.00,480.52 L1042.25,480.37 L1042.50,478.96 L1042.75,473.09 L1043.00,456.05 L1043.25,419.88 L1043.50,365.14 L1043.75,310.97 L1044.00,287.79 L1044.25,355.72 L1044.50,397.86 L1044.75,424.25 L1045.00,441.00 L1045.25,451.81 L1045.50,458.92 L1045.75,463.69 L1046.00,466.97 L1046.25,469.28 L1046.50,470.95 L1046.75,472.21 L1047.00,473.21 L1047.25,474.05 L1047.50,474.80 L1047.75,475.50 L1048.00,476.15 L1048.25,476.74 L1048.50,477.27 L1048.75,477.70 L1049.00,478.04 L1049.25,478.29 L1049.50,478.45 L1049.75,478.55 L1050.00,478.61 L1050.25,478.67 L1050.50,478.76 L1050.75,478.91 L1051.00,479.13 L1051.25,479.41 L1051.50,479.72 L1051.75,480.06 L1052.00,480.38 L1052.25,480.69 L1052.50,480.94 L1052.75,481.11 L1053.00,481.22 L1053.25,481.23 L1053.50,481.17 L1053.75,481.06 L1054.00,480.93 L1054.25,480.82 L1054.50,480.72 L1054.75,480.64 L1055.00,480.55 L1055.25,480.46 L1055.50,480.34 L1055.75,480.23 L1056.00,480.17 L1056.25,480.19 L1056.50,480.30 L1056.75,480.47 L1057.00,480.67 L1057.25,480.84 L1057.50,480.95 L1057.75,480.99 L1058.00,480.98 L1058.25,480.96 L1058.50,480.94 L1058.75,480.92 L1059.00,480.85 L1059.25,480.51 L1059.50,478.94 L1059.75,473.16 L1060.00,456.76 L1060.25,422.16 L1060.50,369.87 L1060.75,318.14 L1061.00,295.99 L1061.25,360.90 L1061.50,401.15 L1061.75,426.30 L1062.00,442.21 L1062.25,452.42 L1062.50,459.15 L1062.75,463.73 L1063.00,467.01 L1063.25,469.48 L1063.50,471.43 L1063.75,473.01 L1064.00,474.28 L1064.25,475.31 L1064.50,476.15 L1064.75,476.84 L1065.00,477.42 L1065.25,477.89 L1065.50,478.27 L1065.75,478.53 L1066.00,478.69 L1066.25,478.77 L1066.50,478.82 L1066.75,478.90 L1067.00,479.07 L1067.25,479.34 L1067.50,479.70 L1067.75,480.11 L1068.00,480.48 L1068.25,480.74 L1068.50,480.88 L1068.75,480.90 L1069.00,480.85 L1069.25,480.76 L1069.50,480.67 L1069.75,480.58 L1070.00,480.50 L1070.25,480.43 L1070.50,480.36 L1070.75,480.30 L1071.00,480.25 L1071.25,480.21 L1071.50,480.21 L1071.75,480.26 L1072.00,480.34 L1072.25,480.47 L1072.50,480.60 L1072.75,480.70 L1073.00,480.76 L1073.25,480.80 L1073.50,480.81 L1073.75,480.82 L1074.00,480.84 L1074.25,480.90 L1074.50,480.97 L1074.75,481.07 L1075.00,481.15 L1075.25,481.22 L1075.50,481.23 L1075.75,481.20 L1076.00,481.09 L1076.25,480.72 L1076.50,479.22 L1076.75,473.90 L1077.00,458.93 L1077.25,427.46 L1077.50,379.98 L1077.75,333.06 L1078.00,312.99 L1078.25,371.77 L1078.50,408.22 L1078.75,431.04 L1079.00,445.53 L1079.25,454.89 L1079.50,461.05 L1079.75,465.24 L1080.00,468.20 L1080.25,470.39 L1080.50,472.11 L1080.75,473.47 L1081.00,474.56 L1081.25,475.41 L1081.50,476.09 L1081.75,476.68 L1082.00,477.24 L1082.25,477.81 L1082.50,478.36 L1082.75,478.88 L1083.00,479.31 L1083.25,479.63 L1083.50,479.83 L1083.75,479.95 L1084.00,480.02 L1084.25,480.11 L1084.50,480.24 L1084.75,480.39 L1085.00,480.55 L1085.25,480.70 L1085.50,480.82 L1085.75,480.93 L1086.00,481.04 L1086.25,481.15 L1086.50,481.26 L1086.75,481.35 L1087.00,481.39 L1087.25,481.40 L1087.50,481.39 L1087.75,481.38 L1088.00,481.38 L1088.25,481.40 L1088.50,481.41 L1088.75,481.41 L1089.00,481.37 L1089.25,481.28 L1089.50,481.14 L1089.75,480.99 L1090.00,480.84 L1090.25,480.77 L1090.50,480.80 L1090.75,480.95 L1091.00,481.20 L1091.25,481.47 L1091.50,481.67 L1091.75,481.73 L1092.00,481.61 L1092.25,481.34 L1092.50,480.98 L1092.75,480.61 L1093.00,480.30 L1093.25,480.07 L1093.50,479.90 L1093.75,479.61 L1094.00,478.44 L1094.25,474.04 L1094.50,461.37 L1094.75,434.45 L1095.00,393.57 L1095.25,353.00 L1095.50,335.59 L1095.75,386.70 L1096.00,418.42 L1096.25,438.26 L1096.50,450.81 L1096.75,458.83 L1097.00,464.03 L1097.25,467.46 L1097.50,469.79 L1097.75,471.47 L1098.00,472.77 L1098.25,473.85 L1098.50,474.77 L1098.75,475.56 L1099.00,476.22 L1099.25,476.75 L1099.50,477.21 L1099.75,477.60 L1100.00,477.97 L1100.25,478.35 L1100.50,478.73 L1100.75,479.09 L1101.00,479.39 L1101.25,479.60 L1101.50,479.71 L1101.75,479.73 L1102.00,479.71 L1102.25,479.71 L1102.50,479.76 L1102.75,479.85 L1103.00,480.00 L1103.25,480.16 L1103.50,480.32 L1103.75,480.45 L1104.00,480.55 L1104.25,480.62 L1104.50,480.66 L1104.75,480.64 L1105.00,480.56 L1105.25,480.42 L1105.50,480.25 L1105.75,480.09 L1106.00,480.00" fill="none" stroke="#777" stroke-width="1.0" stroke-linejoin="round" />
<line x1="780.0" y1="481.2" x2="1110.2" y2="481.2" stroke="#e85a5a" stroke-opacity="0.55" stroke-width="2.0"/>
<path d="M780.40,577.80 L785.80,582.70 L796.60,593.70 L805.20,602.30 L810.60,607.90 L817.00,616.60 L827.80,629.30 L838.60,641.70 L849.40,654.10 L860.00,665.20 L874.40,680.10 L891.60,697.40 L911.80,716.10 L931.90,733.30 L949.10,749.10 L967.80,764.50 L989.40,781.20 L1010.00,797.20 L1022.90,806.40 L1040.20,819.30 L1055.30,829.50 L1076.80,843.10 L1096.20,855.40 L1121.00,870.00" fill="none" stroke="#777" stroke-width="1.2" stroke-linejoin="round" />
<rect x="810.45" y="603.75" width="9.9" height="11.9" fill="#000"/>
<rect x="828.15" y="630.05" width="9.9" height="11.9" fill="#000"/>
<rect x="846.55" y="641.05" width="9.9" height="11.9" fill="#000"/>
<rect x="864.35" y="672.85" width="9.9" height="11.9" fill="#000"/>
<rect x="882.65" y="695.35" width="9.9" height="11.9" fill="#000"/>
<rect x="901.65" y="706.55" width="9.9" height="11.9" fill="#000"/>
<rect x="920.45" y="724.45" width="9.9" height="11.9" fill="#000"/>
<rect x="939.15" y="746.65" width="9.9" height="11.9" fill="#000"/>
<rect x="1016.25" y="793.65" width="9.9" height="11.9" fill="#000"/>
<rect x="1035.85" y="806.95" width="9.9" height="11.9" fill="#000"/>
<rect x="1056.25" y="815.55" width="9.9" height="11.9" fill="#000"/>
<rect x="1075.75" y="830.95" width="9.9" height="11.9" fill="#000"/>
<rect x="1096.25" y="851.15" width="9.9" height="11.9" fill="#000"/>
<rect x="1116.65" y="879.15" width="9.9" height="11.9" fill="#000"/>
<text transform="translate(681.63,48.17) scale(1.0481,1)" font-family='"Liberation Sans", Arial, sans-serif' font-weight="bold" font-size="62.73" fill="#000">b</text>
<text transform="translate(795.32,1103.20) scale(0.9854,1)" font-family='"Liberation Serif", "Times New Roman", serif' font-weight="bold" font-size="53.89" fill="#000">[ToxR-C]/[FP]</text>
<line x1="1456.20" y1="142.60" x2="1456.20" y2="154.60" stroke="#555" stroke-width="1.8"/>
<line x1="1545.45" y1="142.60" x2="1545.45" y2="154.60" stroke="#555" stroke-width="1.8"/>
<line x1="1634.70" y1="142.60" x2="1634.70" y2="154.60" stroke="#555" stroke-width="1.8"/>
<line x1="1723.95" y1="142.60" x2="1723.95" y2="154.60" stroke="#555" stroke-width="1.8"/>
<line x1="1813.20" y1="142.60" x2="1813.20" y2="154.60" stroke="#555" stroke-width="1.8"/>
<line x1="1500.83" y1="142.60" x2="1500.83" y2="149.10" stroke="#555" stroke-width="1.8"/>
<line x1="1590.08" y1="142.60" x2="1590.08" y2="149.10" stroke="#555" stroke-width="1.8"/>
<line x1="1679.33" y1="142.60" x2="1679.33" y2="149.10" stroke="#555" stroke-width="1.8"/>
<line x1="1768.58" y1="142.60" x2="1768.58" y2="149.10" stroke="#555" stroke-width="1.8"/>
<text transform="translate(1456.20,124.48) scale(0.8400,1)" text-anchor="middle" font-family='"Liberation Sans", Arial, sans-serif' font-size="22.11" fill="#222">0</text>
<text transform="translate(1545.45,124.48) scale(0.8400,1)" text-anchor="middle" font-family='"Liberation Sans", Arial, sans-serif' font-size="22.11" fill="#222">10</text>
<text transform="translate(1634.70,124.48) scale(0.8400,1)" text-anchor="middle" font-family='"Liberation Sans", Arial, sans-serif' font-size="22.11" fill="#222">20</text>
<text transform="translate(1723.95,124.48) scale(0.8400,1)" text-anchor="middle" font-family='"Liberation Sans", Arial, sans-serif' font-size="22.11" fill="#222">30</text>
<text transform="translate(1813.20,124.48) scale(0.8400,1)" text-anchor="middle" font-family='"Liberation Sans", Arial, sans-serif' font-size="22.11" fill="#222">40</text>
<line x1="1401.00" y1="171.70" x2="1411.00" y2="171.70" stroke="#555" stroke-width="2.4"/>
<line x1="1847.80" y1="171.70" x2="1856.80" y2="171.70" stroke="#555" stroke-width="2.4"/>
<line x1="1401.00" y1="230.55" x2="1411.00" y2="230.55" stroke="#555" stroke-width="2.4"/>
<line x1="1847.80" y1="230.55" x2="1856.80" y2="230.55" stroke="#555" stroke-width="2.4"/>
<line x1="1401.00" y1="289.40" x2="1411.00" y2="289.40" stroke="#555" stroke-width="2.4"/>
<line x1="1847.80" y1="289.40" x2="1856.80" y2="289.40" stroke="#555" stroke-width="2.4"/>
<line x1="1401.00" y1="348.25" x2="1411.00" y2="348.25" stroke="#555" stroke-width="2.4"/>
<line x1="1847.80" y1="348.25" x2="1856.80" y2="348.25" stroke="#555" stroke-width="2.4"/>
<line x1="1401.00" y1="407.10" x2="1411.00" y2="407.10" stroke="#555" stroke-width="2.4"/>
<line x1="1847.80" y1="407.10" x2="1856.80" y2="407.10" stroke="#555" stroke-width="2.4"/>
<line x1="1401.00" y1="465.95" x2="1411.00" y2="465.95" stroke="#555" stroke-width="2.4"/>
<line x1="1847.80" y1="465.95" x2="1856.80" y2="465.95" stroke="#555" stroke-width="2.4"/>
<line x1="1401.00" y1="524.80" x2="1411.00" y2="524.80" stroke="#555" stroke-width="2.4"/>
<line x1="1847.80" y1="524.80" x2="1856.80" y2="524.80" stroke="#555" stroke-width="2.4"/>
<line x1="1405.50" y1="201.12" x2="1411.00" y2="201.12" stroke="#555" stroke-width="1.8"/>
<line x1="1851.30" y1="201.12" x2="1856.80" y2="201.12" stroke="#555" stroke-width="1.8"/>
<line x1="1405.50" y1="259.97" x2="1411.00" y2="259.97" stroke="#555" stroke-width="1.8"/>
<line x1="1851.30" y1="259.97" x2="1856.80" y2="259.97" stroke="#555" stroke-width="1.8"/>
<line x1="1405.50" y1="318.82" x2="1411.00" y2="318.82" stroke="#555" stroke-width="1.8"/>
<line x1="1851.30" y1="318.82" x2="1856.80" y2="318.82" stroke="#555" stroke-width="1.8"/>
<line x1="1405.50" y1="377.68" x2="1411.00" y2="377.68" stroke="#555" stroke-width="1.8"/>
<line x1="1851.30" y1="377.68" x2="1856.80" y2="377.68" stroke="#555" stroke-width="1.8"/>
<line x1="1405.50" y1="436.53" x2="1411.00" y2="436.53" stroke="#555" stroke-width="1.8"/>
<line x1="1851.30" y1="436.53" x2="1856.80" y2="436.53" stroke="#555" stroke-width="1.8"/>
<line x1="1405.50" y1="495.38" x2="1411.00" y2="495.38" stroke="#555" stroke-width="1.8"/>
<line x1="1851.30" y1="495.38" x2="1856.80" y2="495.38" stroke="#555" stroke-width="1.8"/>
<line x1="1405.50" y1="142.27" x2="1411.00" y2="142.27" stroke="#555" stroke-width="1.8"/>
<line x1="1851.30" y1="142.27" x2="1856.80" y2="142.27" stroke="#555" stroke-width="1.8"/>
<text transform="translate(1394.50,177.37) scale(0.8300,1)" text-anchor="end" font-family='"Liberation Sans", Arial, sans-serif' font-size="23.24" fill="#222">0.08</text>
<text transform="translate(1394.50,236.22) scale(0.8300,1)" text-anchor="end" font-family='"Liberation Sans", Arial, sans-serif' font-size="23.24" fill="#222">0.00</text>
<text transform="translate(1394.50,295.07) scale(0.8300,1)" text-anchor="end" font-family='"Liberation Sans", Arial, sans-serif' font-size="23.24" fill="#222">-0.08</text>
<text transform="translate(1394.50,353.92) scale(0.8300,1)" text-anchor="end" font-family='"Liberation Sans", Arial, sans-serif' font-size="23.24" fill="#222">-0.17</text>
<text transform="translate(1394.50,412.77) scale(0.8300,1)" text-anchor="end" font-family='"Liberation Sans", Arial, sans-serif' font-size="23.24" fill="#222">-0.25</text>
<text transform="translate(1394.50,471.62) scale(0.8300,1)" text-anchor="end" font-family='"Liberation Sans", Arial, sans-serif' font-size="23.24" fill="#222">-0.33</text>
<text transform="translate(1394.50,530.47) scale(0.8300,1)" text-anchor="end" font-family='"Liberation Sans", Arial, sans-serif' font-size="23.24" fill="#222">-0.42</text>
<line x1="1451.00" y1="524.60" x2="1451.00" y2="536.60" stroke="#888" stroke-width="1.8"/>
<line x1="1532.20" y1="524.60" x2="1532.20" y2="536.60" stroke="#888" stroke-width="1.8"/>
<line x1="1613.40" y1="524.60" x2="1613.40" y2="536.60" stroke="#888" stroke-width="1.8"/>
<line x1="1694.60" y1="524.60" x2="1694.60" y2="536.60" stroke="#888" stroke-width="1.8"/>
<line x1="1775.80" y1="524.60" x2="1775.80" y2="536.60" stroke="#888" stroke-width="1.8"/>
<line x1="1857.00" y1="524.60" x2="1857.00" y2="536.60" stroke="#888" stroke-width="1.8"/>
<line x1="1410.40" y1="524.60" x2="1410.40" y2="531.10" stroke="#888" stroke-width="1.8"/>
<line x1="1491.60" y1="524.60" x2="1491.60" y2="531.10" stroke="#888" stroke-width="1.8"/>
<line x1="1572.80" y1="524.60" x2="1572.80" y2="531.10" stroke="#888" stroke-width="1.8"/>
<line x1="1654.00" y1="524.60" x2="1654.00" y2="531.10" stroke="#888" stroke-width="1.8"/>
<line x1="1735.20" y1="524.60" x2="1735.20" y2="531.10" stroke="#888" stroke-width="1.8"/>
<line x1="1816.40" y1="524.60" x2="1816.40" y2="531.10" stroke="#888" stroke-width="1.8"/>
<line x1="1451.00" y1="907.20" x2="1451.00" y2="919.20" stroke="#555" stroke-width="1.8"/>
<line x1="1532.20" y1="907.20" x2="1532.20" y2="919.20" stroke="#555" stroke-width="1.8"/>
<line x1="1613.40" y1="907.20" x2="1613.40" y2="919.20" stroke="#555" stroke-width="1.8"/>
<line x1="1694.60" y1="907.20" x2="1694.60" y2="919.20" stroke="#555" stroke-width="1.8"/>
<line x1="1775.80" y1="907.20" x2="1775.80" y2="919.20" stroke="#555" stroke-width="1.8"/>
<line x1="1857.00" y1="907.20" x2="1857.00" y2="919.20" stroke="#555" stroke-width="1.8"/>
<line x1="1410.40" y1="907.20" x2="1410.40" y2="913.70" stroke="#555" stroke-width="1.8"/>
<line x1="1491.60" y1="907.20" x2="1491.60" y2="913.70" stroke="#555" stroke-width="1.8"/>
<line x1="1572.80" y1="907.20" x2="1572.80" y2="913.70" stroke="#555" stroke-width="1.8"/>
<line x1="1654.00" y1="907.20" x2="1654.00" y2="913.70" stroke="#555" stroke-width="1.8"/>
<line x1="1735.20" y1="907.20" x2="1735.20" y2="913.70" stroke="#555" stroke-width="1.8"/>
<line x1="1816.40" y1="907.20" x2="1816.40" y2="913.70" stroke="#555" stroke-width="1.8"/>
<text transform="translate(1451.00,942.78) scale(0.8600,1)" text-anchor="middle" font-family='"Liberation Sans", Arial, sans-serif' font-size="21.69" fill="#222">0.0</text>
<text transform="translate(1532.20,942.78) scale(0.8600,1)" text-anchor="middle" font-family='"Liberation Sans", Arial, sans-serif' font-size="21.69" fill="#222">0.5</text>
<text transform="translate(1613.40,942.78) scale(0.8600,1)" text-anchor="middle" font-family='"Liberation Sans", Arial, sans-serif' font-size="21.69" fill="#222">1.0</text>
<text transform="translate(1694.60,942.78) scale(0.8600,1)" text-anchor="middle" font-family='"Liberation Sans", Arial, sans-serif' font-size="21.69" fill="#222">1.5</text>
<text transform="translate(1775.80,942.78) scale(0.8600,1)" text-anchor="middle" font-family='"Liberation Sans", Arial, sans-serif' font-size="21.69" fill="#222">2.0</text>
<text transform="translate(1857.00,942.78) scale(0.8600,1)" text-anchor="middle" font-family='"Liberation Sans", Arial, sans-serif' font-size="21.69" fill="#222">2.5</text>
<line x1="1401.00" y1="552.70" x2="1411.00" y2="552.70" stroke="#555" stroke-width="2.4"/>
<line x1="1847.80" y1="552.70" x2="1856.80" y2="552.70" stroke="#555" stroke-width="2.4"/>
<line x1="1401.00" y1="607.20" x2="1411.00" y2="607.20" stroke="#555" stroke-width="2.4"/>
<line x1="1847.80" y1="607.20" x2="1856.80" y2="607.20" stroke="#555" stroke-width="2.4"/>
<line x1="1401.00" y1="661.70" x2="1411.00" y2="661.70" stroke="#555" stroke-width="2.4"/>
<line x1="1847.80" y1="661.70" x2="1856.80" y2="661.70" stroke="#555" stroke-width="2.4"/>
<line x1="1401.00" y1="716.20" x2="1411.00" y2="716.20" stroke="#555" stroke-width="2.4"/>
<line x1="1847.80" y1="716.20" x2="1856.80" y2="716.20" stroke="#555" stroke-width="2.4"/>
<line x1="1401.00" y1="770.70" x2="1411.00" y2="770.70" stroke="#555" stroke-width="2.4"/>
<line x1="1847.80" y1="770.70" x2="1856.80" y2="770.70" stroke="#555" stroke-width="2.4"/>
<line x1="1401.00" y1="825.20" x2="1411.00" y2="825.20" stroke="#555" stroke-width="2.4"/>
<line x1="1847.80" y1="825.20" x2="1856.80" y2="825.20" stroke="#555" stroke-width="2.4"/>
<line x1="1401.00" y1="879.70" x2="1411.00" y2="879.70" stroke="#555" stroke-width="2.4"/>
<line x1="1847.80" y1="879.70" x2="1856.80" y2="879.70" stroke="#555" stroke-width="2.4"/>
<line x1="1405.50" y1="579.95" x2="1411.00" y2="579.95" stroke="#555" stroke-width="1.8"/>
<line x1="1851.30" y1="579.95" x2="1856.80" y2="579.95" stroke="#555" stroke-width="1.8"/>
<line x1="1405.50" y1="634.45" x2="1411.00" y2="634.45" stroke="#555" stroke-width="1.8"/>
<line x1="1851.30" y1="634.45" x2="1856.80" y2="634.45" stroke="#555" stroke-width="1.8"/>
<line x1="1405.50" y1="688.95" x2="1411.00" y2="688.95" stroke="#555" stroke-width="1.8"/>
<line x1="1851.30" y1="688.95" x2="1856.80" y2="688.95" stroke="#555" stroke-width="1.8"/>
<line x1="1405.50" y1="743.45" x2="1411.00" y2="743.45" stroke="#555" stroke-width="1.8"/>
<line x1="1851.30" y1="743.45" x2="1856.80" y2="743.45" stroke="#555" stroke-width="1.8"/>
<line x1="1405.50" y1="797.95" x2="1411.00" y2="797.95" stroke="#555" stroke-width="1.8"/>
<line x1="1851.30" y1="797.95" x2="1856.80" y2="797.95" stroke="#555" stroke-width="1.8"/>
<line x1="1405.50" y1="852.45" x2="1411.00" y2="852.45" stroke="#555" stroke-width="1.8"/>
<line x1="1851.30" y1="852.45" x2="1856.80" y2="852.45" stroke="#555" stroke-width="1.8"/>
<line x1="1405.50" y1="906.95" x2="1411.00" y2="906.95" stroke="#555" stroke-width="1.8"/>
<line x1="1851.30" y1="906.95" x2="1856.80" y2="906.95" stroke="#555" stroke-width="1.8"/>
<line x1="1405.50" y1="525.45" x2="1411.00" y2="525.45" stroke="#555" stroke-width="1.8"/>
<line x1="1851.30" y1="525.45" x2="1856.80" y2="525.45" stroke="#555" stroke-width="1.8"/>
<text transform="translate(1394.50,558.07) scale(0.8300,1)" text-anchor="end" font-family='"Liberation Sans", Arial, sans-serif' font-size="23.24" fill="#222">-0.19</text>
<text transform="translate(1394.50,612.57) scale(0.8300,1)" text-anchor="end" font-family='"Liberation Sans", Arial, sans-serif' font-size="23.24" fill="#222">-0.21</text>
<text transform="translate(1394.50,667.07) scale(0.8300,1)" text-anchor="end" font-family='"Liberation Sans", Arial, sans-serif' font-size="23.24" fill="#222">-0.23</text>
<text transform="translate(1394.50,721.57) scale(0.8300,1)" text-anchor="end" font-family='"Liberation Sans", Arial, sans-serif' font-size="23.24" fill="#222">-0.25</text>
<text transform="translate(1394.50,776.07) scale(0.8300,1)" text-anchor="end" font-family='"Liberation Sans", Arial, sans-serif' font-size="23.24" fill="#222">-0.27</text>
<text transform="translate(1394.50,830.57) scale(0.8300,1)" text-anchor="end" font-family='"Liberation Sans", Arial, sans-serif' font-size="23.24" fill="#222">-0.29</text>
<text transform="translate(1394.50,885.07) scale(0.8300,1)" text-anchor="end" font-family='"Liberation Sans", Arial, sans-serif' font-size="23.24" fill="#222">-0.31</text>
<text transform="translate(1573.33,79.80) scale(0.8518,1)" font-family='"Liberation Sans", Arial, sans-serif' font-weight="normal" font-size="30.29" fill="#222">Time (min)</text>
<text transform="translate(1568.37,990.20) scale(0.8811,1)" font-family='"Liberation Sans", Arial, sans-serif' font-weight="normal" font-size="28.84" fill="#222">Molar Ratio</text>
<text transform="translate(1335.00,400.01) scale(0.9186,1) rotate(-90)" font-family='"Liberation Sans", Arial, sans-serif' font-weight="normal" font-size="30.13" fill="#222">µWatts</text>
<text transform="translate(1334.80,903.10) scale(0.9266,1) rotate(-90)" font-family='"Liberation Sans", Arial, sans-serif' font-weight="normal" font-size="30.03" fill="#222">KJoules/Mole of Injectant</text>
<line x1="1411.00" y1="524.60" x2="1856.80" y2="524.60" stroke="#777" stroke-width="2.6"/>
<line x1="1411.00" y1="142.60" x2="1411.00" y2="907.20" stroke="#444444" stroke-width="2.4"/>
<line x1="1856.80" y1="142.60" x2="1856.80" y2="907.20" stroke="#444444" stroke-width="2.4"/>
<line x1="1409.80" y1="142.60" x2="1858.00" y2="142.60" stroke="#444444" stroke-width="2.4"/>
<line x1="1409.80" y1="907.20" x2="1858.00" y2="907.20" stroke="#444444" stroke-width="2.4"/>
<path d="M1457.00,219.68 L1457.25,219.71 L1457.50,219.37 L1457.75,220.61 L1458.00,223.47 L1458.25,225.95 L1458.50,227.15 L1458.75,227.27 L1459.00,226.74 L1459.25,227.66 L1459.50,231.16 L1459.75,234.85 L1460.00,237.19 L1460.25,239.49 L1460.50,241.01 L1460.75,240.14 L1461.00,238.24 L1461.25,236.56 L1461.50,233.95 L1461.75,231.13 L1462.00,230.21 L1462.25,230.84 L1462.50,231.52 L1462.75,231.80 L1463.00,230.89 L1463.25,229.33 L1463.50,230.27 L1463.75,234.73 L1464.00,239.43 L1464.25,242.55 L1464.50,246.46 L1464.75,253.03 L1465.00,260.43 L1465.25,266.95 L1465.50,273.29 L1465.75,279.75 L1466.00,284.96 L1466.25,287.43 L1466.30,287.50 L1466.50,281.48 L1466.75,275.12 L1467.00,269.96 L1467.25,266.43 L1467.50,263.40 L1467.75,259.24 L1468.00,254.56 L1468.25,250.92 L1468.50,248.00 L1468.75,245.20 L1469.00,243.82 L1469.25,243.38 L1469.50,239.74 L1469.75,231.67 L1470.00,224.30 L1470.25,222.55 L1470.50,225.84 L1470.75,230.39 L1471.00,232.78 L1471.25,232.14 L1471.50,230.14 L1471.75,228.64 L1472.00,228.49 L1472.25,230.91 L1472.50,235.80 L1472.75,239.09 L1473.00,236.34 L1473.25,229.31 L1473.50,223.12 L1473.75,219.82 L1474.00,219.00 L1474.25,220.88 L1474.50,224.46 L1474.75,226.57 L1475.00,224.97 L1475.25,221.24 L1475.50,219.02 L1475.75,220.42 L1476.00,224.63 L1476.25,229.14 L1476.50,231.99 L1476.75,233.05 L1477.00,232.66 L1477.25,229.68 L1477.50,224.29 L1477.75,220.68 L1478.00,223.22 L1478.25,230.09 L1478.50,235.24 L1478.75,235.61 L1479.00,232.73 L1479.25,229.17 L1479.50,227.42 L1479.75,228.57 L1480.00,230.77 L1480.25,231.20 L1480.50,230.16 L1480.75,229.86 L1481.00,230.57 L1481.25,231.38 L1481.50,232.88 L1481.75,234.94 L1482.00,236.29 L1482.25,237.45 L1482.50,238.76 L1482.75,238.94 L1483.00,238.90 L1483.25,243.20 L1483.50,257.85 L1483.75,288.59 L1484.00,334.65 L1484.25,384.35 L1484.50,420.69 L1484.70,430.71 L1484.75,412.88 L1485.00,345.68 L1485.25,305.78 L1485.50,283.73 L1485.75,271.66 L1486.00,263.52 L1486.25,255.85 L1486.50,248.53 L1486.75,242.99 L1487.00,239.35 L1487.25,236.33 L1487.50,233.72 L1487.75,232.46 L1488.00,232.51 L1488.25,232.51 L1488.50,231.19 L1488.75,228.96 L1489.00,227.12 L1489.25,225.56 L1489.50,224.48 L1489.75,224.44 L1490.00,223.52 L1490.25,221.60 L1490.50,221.96 L1490.75,225.08 L1491.00,228.21 L1491.25,229.97 L1491.50,231.84 L1491.75,235.65 L1492.00,238.74 L1492.25,237.59 L1492.50,233.51 L1492.75,229.92 L1493.00,227.90 L1493.25,226.86 L1493.50,226.47 L1493.75,227.00 L1494.00,227.12 L1494.25,225.97 L1494.50,225.01 L1494.75,225.41 L1495.00,227.06 L1495.25,228.44 L1495.50,227.23 L1495.75,224.27 L1496.00,222.45 L1496.25,222.46 L1496.50,223.56 L1496.75,225.49 L1497.00,227.74 L1497.25,229.75 L1497.50,231.30 L1497.75,232.44 L1498.00,232.49 L1498.25,230.57 L1498.50,227.16 L1498.75,224.99 L1499.00,226.90 L1499.25,233.07 L1499.50,240.06 L1499.75,243.53 L1500.00,241.69 L1500.25,237.14 L1500.50,234.51 L1500.75,236.94 L1501.00,245.52 L1501.25,260.58 L1501.50,283.62 L1501.75,317.52 L1502.00,358.32 L1502.25,391.81 L1502.50,404.60 L1502.75,343.36 L1503.00,304.43 L1503.25,278.17 L1503.50,259.39 L1503.75,246.42 L1504.00,238.79 L1504.25,234.85 L1504.50,232.14 L1504.75,230.69 L1505.00,231.38 L1505.25,232.52 L1505.50,231.28 L1505.75,227.58 L1506.00,224.00 L1506.25,222.89 L1506.50,224.75 L1506.75,228.73 L1507.00,233.38 L1507.25,237.63 L1507.50,240.09 L1507.75,239.45 L1508.00,236.67 L1508.25,234.37 L1508.50,234.13 L1508.75,234.67 L1509.00,233.95 L1509.25,233.03 L1509.50,234.10 L1509.75,235.62 L1510.00,234.47 L1510.25,230.28 L1510.50,226.73 L1510.75,227.45 L1511.00,230.00 L1511.25,229.43 L1511.50,226.31 L1511.75,222.97 L1512.00,218.39 L1512.25,213.02 L1512.50,211.15 L1512.75,215.04 L1513.00,221.55 L1513.25,226.37 L1513.50,228.46 L1513.75,228.11 L1514.00,225.06 L1514.25,221.08 L1514.50,218.87 L1514.75,218.52 L1515.00,219.31 L1515.25,221.06 L1515.50,222.45 L1515.75,222.54 L1516.00,223.48 L1516.25,226.49 L1516.50,227.92 L1516.75,225.65 L1517.00,224.14 L1517.25,226.64 L1517.50,229.69 L1517.75,230.04 L1518.00,229.00 L1518.25,228.50 L1518.50,230.15 L1518.75,239.03 L1519.00,261.69 L1519.25,300.17 L1519.50,349.81 L1519.75,400.39 L1520.00,437.34 L1520.20,447.60 L1520.25,429.13 L1520.50,357.41 L1520.75,309.96 L1521.00,279.83 L1521.25,261.97 L1521.50,250.94 L1521.75,244.01 L1522.00,239.90 L1522.25,237.47 L1522.50,235.84 L1522.75,234.28 L1523.00,234.40 L1523.25,237.94 L1523.50,241.15 L1523.75,240.53 L1524.00,238.91 L1524.25,238.37 L1524.50,236.45 L1524.75,232.71 L1525.00,230.45 L1525.25,230.98 L1525.50,232.49 L1525.75,233.01 L1526.00,231.86 L1526.25,229.41 L1526.50,226.75 L1526.75,224.78 L1527.00,224.22 L1527.25,224.78 L1527.50,225.97 L1527.75,227.99 L1528.00,229.52 L1528.25,228.88 L1528.50,227.79 L1528.75,228.22 L1529.00,229.32 L1529.25,230.14 L1529.50,230.58 L1529.75,230.34 L1530.00,229.65 L1530.25,229.87 L1530.50,230.78 L1530.75,229.79 L1531.00,226.89 L1531.25,225.21 L1531.50,224.72 L1531.75,224.94 L1532.00,228.07 L1532.25,233.73 L1532.50,238.22 L1532.75,239.62 L1533.00,238.24 L1533.25,236.27 L1533.50,236.01 L1533.75,237.10 L1534.00,237.38 L1534.25,236.20 L1534.50,235.20 L1534.75,235.65 L1535.00,235.63 L1535.25,232.58 L1535.50,228.06 L1535.75,225.58 L1536.00,225.25 L1536.25,225.34 L1536.50,226.99 L1536.75,234.29 L1537.00,251.62 L1537.25,280.83 L1537.50,320.63 L1537.75,365.34 L1538.00,403.48 L1538.25,421.85 L1538.30,422.40 L1538.50,368.46 L1538.75,319.41 L1539.00,283.77 L1539.25,261.25 L1539.50,251.71 L1539.75,249.69 L1540.00,248.27 L1540.25,245.53 L1540.50,242.47 L1540.75,237.96 L1541.00,231.73 L1541.25,227.16 L1541.50,227.20 L1541.75,229.92 L1542.00,231.57 L1542.25,231.27 L1542.50,231.69 L1542.75,234.33 L1543.00,237.46 L1543.25,239.22 L1543.50,238.91 L1543.75,235.45 L1544.00,229.29 L1544.25,224.79 L1544.50,225.98 L1544.75,230.70 L1545.00,233.13 L1545.25,231.72 L1545.50,229.37 L1545.75,228.20 L1546.00,227.93 L1546.25,228.94 L1546.50,231.83 L1546.75,233.89 L1547.00,231.37 L1547.25,225.93 L1547.50,223.06 L1547.75,225.27 L1548.00,229.60 L1548.25,231.65 L1548.50,230.47 L1548.75,228.13 L1549.00,227.14 L1549.25,229.34 L1549.50,234.32 L1549.75,238.45 L1550.00,238.35 L1550.25,234.83 L1550.50,231.56 L1550.75,228.98 L1551.00,225.31 L1551.25,222.10 L1551.50,222.58 L1551.75,226.22 L1552.00,230.28 L1552.25,233.65 L1552.50,236.07 L1552.75,236.37 L1553.00,234.36 L1553.25,232.16 L1553.50,231.95 L1553.75,233.40 L1554.00,234.22 L1554.25,232.91 L1554.50,229.85 L1554.75,227.12 L1555.00,229.79 L1555.25,244.30 L1555.50,274.07 L1555.75,318.71 L1556.00,374.85 L1556.25,433.09 L1556.50,476.22 L1556.70,488.20 L1556.75,466.53 L1557.00,382.60 L1557.25,328.62 L1557.50,294.76 L1557.75,274.58 L1558.00,263.51 L1558.25,257.28 L1558.50,252.83 L1558.75,248.34 L1559.00,242.71 L1559.25,237.07 L1559.50,233.58 L1559.75,233.12 L1560.00,235.30 L1560.25,238.68 L1560.50,240.72 L1560.75,239.34 L1561.00,234.61 L1561.25,228.82 L1561.50,225.07 L1561.75,225.13 L1562.00,228.33 L1562.25,232.88 L1562.50,237.16 L1562.75,239.86 L1563.00,239.99 L1563.25,238.12 L1563.50,236.02 L1563.75,235.14 L1564.00,234.99 L1564.25,234.56 L1564.50,235.09 L1564.75,237.61 L1565.00,238.55 L1565.25,234.58 L1565.50,228.25 L1565.75,224.46 L1566.00,225.48 L1566.25,229.80 L1566.50,234.68 L1566.75,239.58 L1567.00,243.33 L1567.25,242.98 L1567.50,239.47 L1567.75,236.92 L1568.00,236.06 L1568.25,235.48 L1568.50,235.42 L1568.75,236.69 L1569.00,238.31 L1569.25,238.95 L1569.50,239.09 L1569.75,239.35 L1570.00,239.06 L1570.25,238.54 L1570.50,238.78 L1570.75,238.35 L1571.00,234.96 L1571.25,229.47 L1571.50,224.88 L1571.75,222.88 L1572.00,223.22 L1572.25,224.25 L1572.50,224.77 L1572.75,227.70 L1573.00,237.87 L1573.25,256.93 L1573.50,286.05 L1573.75,326.32 L1574.00,371.75 L1574.25,409.07 L1574.50,423.90 L1574.75,352.09 L1575.00,310.63 L1575.25,287.10 L1575.50,270.68 L1575.75,256.00 L1576.00,243.61 L1576.25,235.50 L1576.50,231.12 L1576.75,228.83 L1577.00,228.75 L1577.25,231.10 L1577.50,233.38 L1577.75,232.90 L1578.00,229.44 L1578.25,225.25 L1578.50,224.12 L1578.75,227.96 L1579.00,233.41 L1579.25,236.09 L1579.50,236.10 L1579.75,236.02 L1580.00,236.65 L1580.25,236.73 L1580.50,235.02 L1580.75,231.99 L1581.00,228.34 L1581.25,224.13 L1581.50,221.03 L1581.75,221.36 L1582.00,224.38 L1582.25,227.24 L1582.50,229.09 L1582.75,230.73 L1583.00,231.54 L1583.25,231.29 L1583.50,232.51 L1583.75,235.30 L1584.00,235.18 L1584.25,230.26 L1584.50,225.38 L1584.75,225.41 L1585.00,229.20 L1585.25,232.23 L1585.50,232.14 L1585.75,230.33 L1586.00,229.86 L1586.25,231.49 L1586.50,233.40 L1586.75,233.30 L1587.00,230.02 L1587.25,224.32 L1587.50,219.43 L1587.75,218.19 L1588.00,221.02 L1588.25,226.84 L1588.50,232.94 L1588.75,234.93 L1589.00,231.80 L1589.25,227.77 L1589.50,227.43 L1589.75,231.72 L1590.00,239.03 L1590.25,248.92 L1590.50,265.30 L1590.75,294.98 L1591.00,340.66 L1591.25,392.78 L1591.50,431.83 L1591.70,442.50 L1591.75,423.95 L1592.00,354.02 L1592.25,311.24 L1592.50,284.14 L1592.75,264.71 L1593.00,250.96 L1593.25,242.94 L1593.50,239.43 L1593.75,239.22 L1594.00,239.87 L1594.25,237.86 L1594.50,233.66 L1594.75,231.08 L1595.00,230.82 L1595.25,230.88 L1595.50,230.96 L1595.75,231.61 L1596.00,231.86 L1596.25,230.95 L1596.50,229.99 L1596.75,230.05 L1597.00,230.99 L1597.25,232.34 L1597.50,233.13 L1597.75,232.23 L1598.00,229.59 L1598.25,225.88 L1598.50,222.32 L1598.75,220.59 L1599.00,221.14 L1599.25,222.32 L1599.50,222.92 L1599.75,224.05 L1600.00,225.96 L1600.25,227.41 L1600.50,229.00 L1600.75,231.39 L1601.00,233.00 L1601.25,233.46 L1601.50,233.41 L1601.75,233.16 L1602.00,233.27 L1602.25,232.93 L1602.50,231.14 L1602.75,229.38 L1603.00,228.44 L1603.25,228.33 L1603.50,230.68 L1603.75,234.68 L1604.00,236.03 L1604.25,233.71 L1604.50,231.27 L1604.75,229.89 L1605.00,228.24 L1605.25,227.33 L1605.50,228.94 L1605.75,232.27 L1606.00,235.77 L1606.25,238.05 L1606.50,237.69 L1606.75,234.45 L1607.00,229.96 L1607.25,226.81 L1607.50,226.34 L1607.75,227.42 L1608.00,229.15 L1608.25,233.87 L1608.50,246.00 L1608.75,267.66 L1609.00,298.55 L1609.25,339.50 L1609.50,387.13 L1609.75,427.01 L1610.00,442.50 L1610.25,367.94 L1610.50,320.10 L1610.75,288.77 L1611.00,268.50 L1611.25,255.89 L1611.50,248.59 L1611.75,244.65 L1612.00,243.05 L1612.25,242.64 L1612.50,241.94 L1612.75,240.01 L1613.00,237.12 L1613.25,234.45 L1613.50,233.10 L1613.75,232.74 L1614.00,232.66 L1614.25,231.66 L1614.50,228.80 L1614.75,225.27 L1615.00,223.67 L1615.25,223.60 L1615.50,222.46 L1615.75,219.65 L1616.00,218.64 L1616.25,221.44 L1616.50,224.96 L1616.75,225.60 L1617.00,223.72 L1617.25,221.32 L1617.50,221.05 L1617.75,224.23 L1618.00,228.71 L1618.25,231.39 L1618.50,231.58 L1618.75,230.28 L1619.00,229.53 L1619.25,231.29 L1619.50,235.07 L1619.75,237.39 L1620.00,235.60 L1620.25,231.21 L1620.50,228.01 L1620.75,227.47 L1621.00,227.16 L1621.25,225.28 L1621.50,224.08 L1621.75,225.76 L1622.00,228.30 L1622.25,228.45 L1622.50,226.91 L1622.75,226.50 L1623.00,226.55 L1623.25,226.11 L1623.50,227.49 L1623.75,230.48 L1624.00,230.74 L1624.25,228.03 L1624.50,227.59 L1624.75,230.69 L1625.00,231.68 L1625.25,228.71 L1625.50,227.51 L1625.75,231.88 L1626.00,240.03 L1626.25,251.83 L1626.50,271.84 L1626.75,304.76 L1627.00,347.45 L1627.25,387.05 L1627.50,409.88 L1627.60,412.10 L1627.75,368.48 L1628.00,319.39 L1628.25,287.85 L1628.50,266.57 L1628.75,253.81 L1629.00,246.46 L1629.25,241.14 L1629.50,236.91 L1629.75,234.15 L1630.00,232.61 L1630.25,231.37 L1630.50,230.40 L1630.75,231.17 L1631.00,233.92 L1631.25,236.30 L1631.50,236.41 L1631.75,235.60 L1632.00,236.02 L1632.25,237.82 L1632.50,240.13 L1632.75,242.28 L1633.00,242.90 L1633.25,240.36 L1633.50,236.07 L1633.75,233.45 L1634.00,232.70 L1634.25,230.39 L1634.50,225.12 L1634.75,220.44 L1635.00,220.93 L1635.25,226.24 L1635.50,230.90 L1635.75,231.52 L1636.00,230.23 L1636.25,229.81 L1636.50,230.10 L1636.75,229.74 L1637.00,227.47 L1637.25,222.95 L1637.50,217.77 L1637.75,214.38 L1638.00,214.59 L1638.25,218.74 L1638.50,225.08 L1638.75,230.51 L1639.00,232.67 L1639.25,231.65 L1639.50,229.79 L1639.75,229.16 L1640.00,229.78 L1640.25,230.02 L1640.50,228.75 L1640.75,227.14 L1641.00,227.17 L1641.25,229.11 L1641.50,232.41 L1641.75,235.49 L1642.00,235.02 L1642.25,229.62 L1642.50,222.65 L1642.75,218.66 L1643.00,218.47 L1643.25,220.49 L1643.50,226.27 L1643.75,239.18 L1644.00,260.59 L1644.25,292.63 L1644.50,336.57 L1644.75,384.43 L1645.00,420.10 L1645.20,430.00 L1645.25,412.84 L1645.50,349.54 L1645.75,310.12 L1646.00,282.91 L1646.25,263.60 L1646.50,251.15 L1646.75,244.41 L1647.00,240.91 L1647.25,239.49 L1647.50,240.24 L1647.75,240.15 L1648.00,235.52 L1648.25,228.14 L1648.50,223.98 L1648.75,226.04 L1649.00,231.32 L1649.25,234.10 L1649.50,231.85 L1649.75,227.33 L1650.00,224.99 L1650.25,225.58 L1650.50,226.80 L1650.75,227.94 L1651.00,229.51 L1651.25,229.71 L1651.50,226.27 L1651.75,221.04 L1652.00,218.86 L1652.25,221.21 L1652.50,224.52 L1652.75,225.77 L1653.00,225.98 L1653.25,227.18 L1653.50,228.81 L1653.75,228.76 L1654.00,226.60 L1654.25,224.20 L1654.50,223.04 L1654.75,222.24 L1655.00,221.32 L1655.25,222.55 L1655.50,227.27 L1655.75,232.88 L1656.00,235.89 L1656.25,234.93 L1656.50,230.58 L1656.75,225.62 L1657.00,224.09 L1657.25,227.55 L1657.50,232.84 L1657.75,235.96 L1658.00,236.13 L1658.25,234.42 L1658.50,232.10 L1658.75,231.00 L1659.00,231.94 L1659.25,233.56 L1659.50,233.98 L1659.75,232.32 L1660.00,229.11 L1660.25,225.90 L1660.50,224.31 L1660.75,224.18 L1661.00,224.21 L1661.25,225.53 L1661.50,230.05 L1661.75,235.10 L1662.00,239.20 L1662.25,249.70 L1662.50,274.51 L1662.75,312.88 L1663.00,358.56 L1663.25,401.13 L1663.50,426.12 L1663.60,428.50 L1663.75,384.06 L1664.00,331.53 L1664.25,295.78 L1664.50,273.46 L1664.75,261.38 L1665.00,254.31 L1665.25,247.96 L1665.50,241.21 L1665.75,235.99 L1666.00,233.23 L1666.25,230.76 L1666.50,227.20 L1666.75,224.15 L1667.00,223.24 L1667.25,223.65 L1667.50,223.95 L1667.75,224.33 L1668.00,225.09 L1668.25,224.88 L1668.50,223.42 L1668.75,222.64 L1669.00,222.65 L1669.25,221.26 L1669.50,218.47 L1669.75,217.22 L1670.00,219.24 L1670.25,223.45 L1670.50,226.97 L1670.75,228.30 L1671.00,229.51 L1671.25,233.06 L1671.50,237.32 L1671.75,237.88 L1672.00,233.29 L1672.25,227.72 L1672.50,226.16 L1672.75,227.86 L1673.00,228.89 L1673.25,228.17 L1673.50,227.25 L1673.75,227.54 L1674.00,229.19 L1674.25,230.41 L1674.50,230.06 L1674.75,229.22 L1675.00,229.55 L1675.25,231.86 L1675.50,235.63 L1675.75,238.35 L1676.00,237.88 L1676.25,233.81 L1676.50,227.96 L1676.75,224.25 L1677.00,224.78 L1677.25,226.48 L1677.50,226.00 L1677.75,223.87 L1678.00,223.26 L1678.25,226.41 L1678.50,231.21 L1678.75,233.45 L1679.00,234.31 L1679.25,240.38 L1679.50,256.85 L1679.75,285.43 L1680.00,325.29 L1680.25,371.53 L1680.50,412.79 L1680.75,433.29 L1680.80,433.91 L1681.00,374.20 L1681.25,325.38 L1681.50,294.93 L1681.75,274.01 L1682.00,258.35 L1682.25,249.20 L1682.50,247.98 L1682.75,251.32 L1683.00,253.39 L1683.25,250.67 L1683.50,243.69 L1683.75,235.89 L1684.00,230.05 L1684.25,226.29 L1684.50,223.19 L1684.75,220.68 L1685.00,221.24 L1685.25,226.96 L1685.50,235.23 L1685.75,240.18 L1686.00,238.74 L1686.25,233.38 L1686.50,227.66 L1686.75,223.06 L1687.00,221.23 L1687.25,223.65 L1687.50,227.80 L1687.75,229.25 L1688.00,228.78 L1688.25,230.14 L1688.50,232.77 L1688.75,233.05 L1689.00,230.22 L1689.25,226.95 L1689.50,226.15 L1689.75,227.29 L1690.00,227.12 L1690.25,225.34 L1690.50,225.04 L1690.75,227.23 L1691.00,230.42 L1691.25,233.92 L1691.50,237.61 L1691.75,240.64 L1692.00,241.27 L1692.25,238.01 L1692.50,231.87 L1692.75,226.81 L1693.00,227.01 L1693.25,232.70 L1693.50,239.98 L1693.75,244.74 L1694.00,245.03 L1694.25,241.90 L1694.50,238.15 L1694.75,234.62 L1695.00,230.12 L1695.25,225.37 L1695.50,222.38 L1695.75,221.36 L1696.00,221.15 L1696.25,222.09 L1696.50,225.03 L1696.75,229.93 L1697.00,236.67 L1697.25,247.89 L1697.50,269.22 L1697.75,303.86 L1698.00,346.51 L1698.25,386.04 L1698.50,409.57 L1698.60,411.97 L1698.75,365.44 L1699.00,315.13 L1699.25,286.93 L1699.50,269.81 L1699.75,257.81 L1700.00,248.02 L1700.25,239.94 L1700.50,234.49 L1700.75,231.03 L1701.00,227.63 L1701.25,224.37 L1701.50,222.70 L1701.75,221.48 L1702.00,220.71 L1702.25,223.45 L1702.50,229.19 L1702.75,233.31 L1703.00,232.91 L1703.25,226.85 L1703.50,215.87 L1703.75,205.15 L1704.00,201.25 L1704.25,205.63 L1704.50,214.37 L1704.75,223.04 L1705.00,229.87 L1705.25,235.46 L1705.50,239.05 L1705.75,236.79 L1706.00,227.56 L1706.25,216.28 L1706.50,208.77 L1706.75,206.63 L1707.00,209.16 L1707.25,215.70 L1707.50,224.47 L1707.75,231.75 L1708.00,235.13 L1708.25,234.53 L1708.50,229.15 L1708.75,218.95 L1709.00,209.44 L1709.25,207.27 L1709.50,211.75 L1709.75,217.35 L1710.00,220.99 L1710.25,222.93 L1710.50,222.25 L1710.75,215.19 L1711.00,199.98 L1711.25,182.63 L1711.50,172.94 L1711.75,174.79 L1712.00,184.53 L1712.25,197.36 L1712.50,210.07 L1712.75,220.76 L1713.00,229.48 L1713.25,236.22 L1713.50,238.99 L1713.75,236.17 L1714.00,229.77 L1714.25,225.04 L1714.50,226.55 L1714.75,235.36 L1715.00,251.09 L1715.25,276.71 L1715.50,318.53 L1715.75,376.78 L1716.00,436.32 L1716.25,475.08 L1716.40,481.70 L1716.50,440.70 L1716.75,365.75 L1717.00,316.99 L1717.25,285.23 L1717.50,265.93 L1717.75,255.38 L1718.00,251.01 L1718.25,249.26 L1718.50,245.10 L1718.75,238.09 L1719.00,233.10 L1719.25,232.24 L1719.50,231.65 L1719.75,228.05 L1720.00,223.21 L1720.25,221.08 L1720.50,223.44 L1720.75,228.95 L1721.00,233.64 L1721.25,234.60 L1721.50,233.10 L1721.75,231.93 L1722.00,231.48 L1722.25,232.03 L1722.50,234.54 L1722.75,237.19 L1723.00,236.80 L1723.25,233.35 L1723.50,228.77 L1723.75,225.18 L1724.00,225.41 L1724.25,231.07 L1724.50,239.05 L1724.75,243.73 L1725.00,242.52 L1725.25,237.37 L1725.50,231.75 L1725.75,228.47 L1726.00,228.00 L1726.25,228.53 L1726.50,228.08 L1726.75,225.40 L1727.00,220.39 L1727.25,215.52 L1727.50,213.47 L1727.75,215.21 L1728.00,220.44 L1728.25,226.79 L1728.50,231.53 L1728.75,234.92 L1729.00,237.28 L1729.25,237.62 L1729.50,236.67 L1729.75,235.75 L1730.00,234.10 L1730.25,230.89 L1730.50,226.64 L1730.75,223.30 L1731.00,223.23 L1731.25,226.00 L1731.50,228.69 L1731.75,230.56 L1732.00,233.77 L1732.25,239.18 L1732.50,245.75 L1732.75,254.45 L1733.00,270.04 L1733.25,298.61 L1733.50,341.37 L1733.75,388.92 L1734.00,424.60 L1734.20,434.49 L1734.25,417.10 L1734.50,350.87 L1734.75,309.70 L1735.00,286.17 L1735.25,272.66 L1735.50,262.30 L1735.75,252.52 L1736.00,243.60 L1736.25,237.28 L1736.50,235.33 L1736.75,236.74 L1737.00,238.02 L1737.25,237.16 L1737.50,234.92 L1737.75,232.95 L1738.00,232.97 L1738.25,234.29 L1738.50,233.56 L1738.75,229.98 L1739.00,227.01 L1739.25,228.00 L1739.50,232.20 L1739.75,235.27 L1740.00,233.58 L1740.25,228.50 L1740.50,223.92 L1740.75,222.54 L1741.00,224.57 L1741.25,227.96 L1741.50,229.74 L1741.75,229.21 L1742.00,228.14 L1742.25,227.90 L1742.50,226.72 L1742.75,223.47 L1743.00,220.99 L1743.25,221.28 L1743.50,223.26 L1743.75,225.93 L1744.00,228.43 L1744.25,229.97 L1744.50,231.50 L1744.75,234.10 L1745.00,236.43 L1745.25,235.53 L1745.50,231.36 L1745.75,227.58 L1746.00,227.09 L1746.25,228.69 L1746.50,229.19 L1746.75,227.43 L1747.00,224.51 L1747.25,221.48 L1747.50,220.87 L1747.75,224.79 L1748.00,230.39 L1748.25,232.48 L1748.50,230.92 L1748.75,228.48 L1749.00,226.49 L1749.25,226.60 L1749.50,230.29 L1749.75,234.20 L1750.00,235.20 L1750.25,236.13 L1750.50,242.04 L1750.75,257.66 L1751.00,286.81 L1751.25,327.84 L1751.50,372.68 L1751.75,408.98 L1752.00,423.20 L1752.25,354.93 L1752.50,313.87 L1752.75,288.26 L1753.00,269.00 L1753.25,253.08 L1753.50,243.12 L1753.75,239.29 L1754.00,235.88 L1754.25,229.77 L1754.50,225.05 L1754.75,225.14 L1755.00,227.36 L1755.25,228.67 L1755.50,230.35 L1755.75,233.26 L1756.00,234.92 L1756.25,233.91 L1756.50,232.83 L1756.75,234.36 L1757.00,236.65 L1757.25,235.21 L1757.50,229.65 L1757.75,224.79 L1758.00,224.32 L1758.25,226.93 L1758.50,230.06 L1758.75,232.66 L1759.00,234.19 L1759.25,234.47 L1759.50,233.52 L1759.75,231.45 L1760.00,230.25 L1760.25,231.42 L1760.50,232.18 L1760.75,230.64 L1761.00,229.38 L1761.25,228.95 L1761.50,226.88 L1761.75,224.42 L1762.00,225.65 L1762.25,231.08 L1762.50,236.54 L1762.75,238.31 L1763.00,236.27 L1763.25,232.38 L1763.50,228.68 L1763.75,227.01 L1764.00,228.00 L1764.25,230.96 L1764.50,233.52 L1764.75,233.69 L1765.00,232.07 L1765.25,229.75 L1765.50,226.44 L1765.75,223.07 L1766.00,221.42 L1766.25,222.27 L1766.50,225.11 L1766.75,228.12 L1767.00,229.62 L1767.25,229.34 L1767.50,227.39 L1767.75,224.59 L1768.00,222.68 L1768.25,222.77 L1768.50,225.01 L1768.75,230.38 L1769.00,240.70 L1769.25,258.87 L1769.50,289.62 L1769.75,333.16 L1770.00,377.68 L1770.25,406.33 L1770.40,411.30 L1770.50,382.91 L1770.75,331.65 L1771.00,297.26 L1771.25,272.22 L1771.50,254.63 L1771.75,244.53 L1772.00,240.59 L1772.25,239.60 L1772.50,238.69 L1772.75,237.42 L1773.00,236.72 L1773.25,236.63 L1773.50,236.10 L1773.75,234.39 L1774.00,231.47 L1774.25,228.62 L1774.50,228.06 L1774.75,229.80 L1775.00,231.35 L1775.25,232.32 L1775.50,233.86 L1775.75,234.39 L1776.00,232.10 L1776.25,228.97 L1776.50,227.42 L1776.75,228.77 L1777.00,233.38 L1777.25,238.40 L1777.50,240.10 L1777.75,238.68 L1778.00,236.58 L1778.25,234.93 L1778.50,233.16 L1778.75,231.06 L1779.00,230.23 L1779.25,231.61 L1779.50,233.27 L1779.75,232.66 L1780.00,230.59 L1780.25,231.46 L1780.50,236.97 L1780.75,241.49 L1781.00,239.35 L1781.25,232.79 L1781.50,227.62 L1781.75,226.04 L1782.00,226.98 L1782.25,229.16 L1782.50,231.73 L1782.75,232.88 L1783.00,230.55 L1783.25,226.06 L1783.50,222.53 L1783.75,220.53 L1784.00,220.07 L1784.25,222.24 L1784.50,225.89 L1784.75,228.74 L1785.00,231.78 L1785.25,236.51 L1785.50,239.99 L1785.75,238.98 L1786.00,234.78 L1786.25,231.47 L1786.50,233.52 L1786.75,244.44 L1787.00,265.71 L1787.25,297.05 L1787.50,335.14 L1787.75,373.62 L1788.00,402.50 L1788.20,410.80 L1788.25,394.92 L1788.50,333.19 L1788.75,295.34 L1789.00,274.02 L1789.25,262.93 L1789.50,258.02 L1789.75,255.91 L1790.00,252.77 L1790.25,247.34 L1790.50,242.13 L1790.75,238.78 L1791.00,236.11 L1791.25,234.24 L1791.50,234.77 L1791.75,237.24 L1792.00,239.80 L1792.25,240.42 L1792.50,237.53 L1792.75,232.46 L1793.00,228.74 L1793.25,227.73 L1793.50,228.59 L1793.75,230.62 L1794.00,233.23 L1794.25,234.66 L1794.50,233.33 L1794.75,230.73 L1795.00,230.51 L1795.25,233.36 L1795.50,236.50 L1795.75,238.31 L1796.00,239.51 L1796.25,240.72 L1796.50,241.04 L1796.75,238.94 L1797.00,234.76 L1797.25,231.00 L1797.50,229.40 L1797.75,229.18 L1798.00,229.65 L1798.25,231.16 L1798.50,232.34 L1798.75,230.67 L1799.00,227.14 L1799.25,225.82 L1799.50,227.71 L1799.75,230.07 L1800.00,230.87 L1800.25,230.97 L1800.50,231.86 L1800.75,233.15 L1801.00,232.68 L1801.25,229.71 L1801.50,226.45 L1801.75,225.89 L1802.00,228.16 L1802.25,230.17 L1802.50,228.97 L1802.75,223.92 L1803.00,217.20 L1803.25,213.47 L1803.50,215.30 L1803.75,220.65 L1804.00,226.40 L1804.25,232.25 L1804.50,240.52 L1804.75,254.61 L1805.00,278.90 L1805.25,316.57 L1805.50,361.08 L1805.75,397.02 L1806.00,410.80 L1806.25,345.64 L1806.50,306.99 L1806.75,282.19 L1807.00,265.31 L1807.25,255.86 L1807.50,251.14 L1807.75,247.01 L1808.00,243.09 L1808.25,241.50 L1808.50,242.11 L1808.75,242.19 L1809.00,239.07 L1809.25,233.88 L1809.50,231.72 L1809.75,235.01 L1810.00,239.55 L1810.25,241.51 L1810.50,241.19 L1810.75,239.15 L1811.00,235.51 L1811.25,232.16 L1811.50,230.59 L1811.75,231.09 L1812.00,232.27 L1812.25,231.22 L1812.50,226.99 L1812.75,222.95 L1813.00,222.34 L1813.25,224.50 L1813.50,226.33 L1813.75,226.40 L1814.00,226.38 L1814.25,228.28 L1814.50,231.15 L1814.75,232.82 L1815.00,232.58 L1815.25,230.28 L1815.50,227.26 L1815.75,226.70 L1816.00,228.99 L1816.25,229.66 L1816.50,225.14 L1816.75,217.41 L1817.00,212.25 L1817.25,214.90 L1817.50,223.24 L1817.75,232.20 L1818.00,237.32 L1818.25,239.01 L1818.50,239.96 L1818.75,240.78 L1819.00,240.79 L1819.25,239.43 L1819.50,236.97 L1819.75,236.41 L1820.00,240.10" fill="none" stroke="#666" stroke-width="1.0" stroke-linejoin="round" />
<line x1="1456.5" y1="231.8" x2="1820.6" y2="231.8" stroke="#e85a5a" stroke-opacity="0.6" stroke-width="1.9"/>
<rect x="1453.40" y="617.20" width="10.6" height="12.2" fill="#000"/>
<rect x="1469.50" y="698.60" width="10.6" height="12.2" fill="#000"/>
<rect x="1485.40" y="583.80" width="10.6" height="12.2" fill="#000"/>
<rect x="1502.10" y="617.20" width="10.6" height="12.2" fill="#000"/>
<rect x="1519.10" y="727.80" width="10.6" height="12.2" fill="#000"/>
<rect x="1535.80" y="713.90" width="10.6" height="12.2" fill="#000"/>
<rect x="1552.50" y="712.50" width="10.6" height="12.2" fill="#000"/>
<rect x="1569.50" y="706.40" width="10.6" height="12.2" fill="#000"/>
<rect x="1586.50" y="813.60" width="10.6" height="12.2" fill="#000"/>
<rect x="1603.80" y="543.40" width="10.6" height="12.2" fill="#000"/>
<rect x="1621.30" y="704.40" width="10.6" height="12.2" fill="#000"/>
<rect x="1638.80" y="702.90" width="10.6" height="12.2" fill="#000"/>
<rect x="1657.00" y="736.40" width="10.6" height="12.2" fill="#000"/>
<rect x="1674.90" y="694.40" width="10.6" height="12.2" fill="#000"/>
<rect x="1693.10" y="853.30" width="10.6" height="12.2" fill="#000"/>
<rect x="1711.30" y="770.30" width="10.6" height="12.2" fill="#000"/>
<rect x="1729.70" y="690.80" width="10.6" height="12.2" fill="#000"/>
<rect x="1748.40" y="665.80" width="10.6" height="12.2" fill="#000"/>
<rect x="1767.00" y="630.30" width="10.6" height="12.2" fill="#000"/>
<rect x="1786.10" y="630.70" width="10.6" height="12.2" fill="#000"/>
<text transform="translate(1355.11,48.17) scale(0.8711,1)" font-family='"Liberation Sans", Arial, sans-serif' font-weight="bold" font-size="62.73" fill="#000">c</text>
<text transform="translate(1456.21,1100.93) scale(0.9689,1)" font-family='"Liberation Serif", "Times New Roman", serif' font-weight="bold" font-size="54.85" fill="#000">[Buffer]/[cFP]</text>
</svg></body></html>
